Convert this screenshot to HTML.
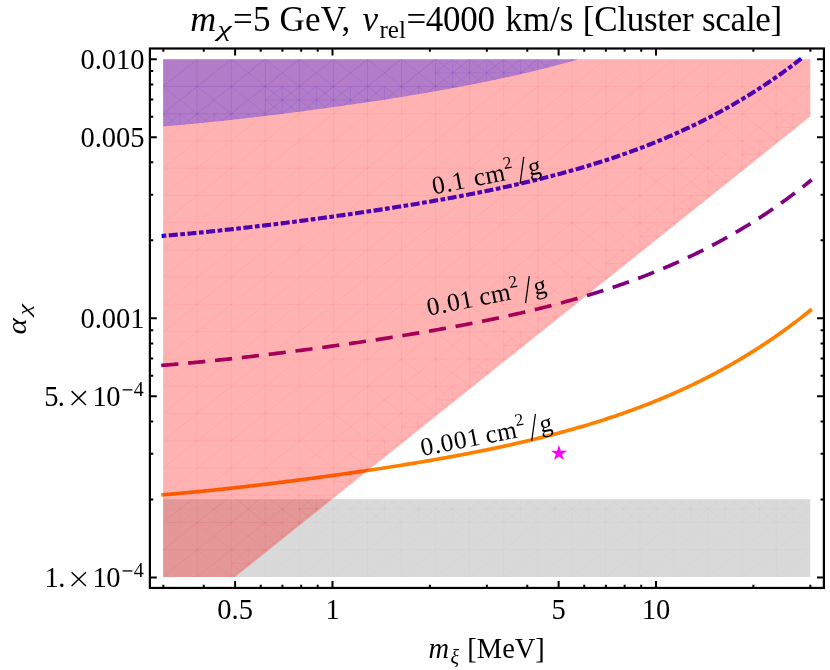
<!DOCTYPE html>
<html><head><meta charset="utf-8"><title>plot</title>
<style>
html,body{margin:0;padding:0;background:#fff;}
body{width:830px;height:670px;overflow:hidden;}
svg{display:block;will-change:transform;}
text{font-family:"Liberation Serif",serif;fill:#000;}
</style></head><body>
<svg width="830" height="670" viewBox="0 0 830 670">
<rect x="0" y="0" width="830" height="670" fill="#fff"/>
<rect x="163.10" y="499.17" width="647.15" height="77.83" fill="#000" fill-opacity="0.15"/>
<path d="M161.60,235.98 L163.10,235.85 L164.72,235.72 L166.34,235.59 L167.97,235.45 L169.59,235.32 L171.21,235.18 L172.83,235.04 L174.45,234.90 L176.08,234.76 L177.70,234.62 L179.32,234.48 L180.94,234.33 L182.56,234.18 L184.19,234.04 L185.81,233.89 L187.43,233.74 L189.05,233.59 L190.67,233.44 L192.29,233.28 L193.92,233.13 L195.54,232.97 L197.16,232.81 L198.78,232.66 L200.40,232.50 L202.03,232.34 L203.65,232.18 L205.27,232.01 L206.89,231.85 L208.51,231.69 L210.14,231.52 L211.76,231.35 L213.38,231.19 L215.00,231.02 L216.62,230.85 L218.25,230.68 L219.87,230.51 L221.49,230.33 L223.11,230.16 L224.73,229.99 L226.36,229.81 L227.98,229.64 L229.60,229.46 L231.22,229.28 L232.84,229.10 L234.46,228.92 L236.09,228.74 L237.71,228.56 L239.33,228.38 L240.95,228.19 L242.57,228.01 L244.20,227.83 L245.82,227.64 L247.44,227.45 L249.06,227.27 L250.68,227.08 L252.31,226.89 L253.93,226.70 L255.55,226.51 L257.17,226.32 L258.79,226.12 L260.42,225.93 L262.04,225.74 L263.66,225.54 L265.28,225.35 L266.90,225.15 L268.53,224.96 L270.15,224.76 L271.77,224.56 L273.39,224.36 L275.01,224.16 L276.64,223.96 L278.26,223.76 L279.88,223.56 L281.50,223.35 L283.12,223.15 L284.74,222.95 L286.37,222.74 L287.99,222.54 L289.61,222.33 L291.23,222.12 L292.85,221.91 L294.48,221.71 L296.10,221.50 L297.72,221.29 L299.34,221.08 L300.96,220.86 L302.59,220.65 L304.21,220.44 L305.83,220.23 L307.45,220.01 L309.07,219.80 L310.70,219.58 L312.32,219.37 L313.94,219.15 L315.56,218.93 L317.18,218.71 L318.81,218.49 L320.43,218.27 L322.05,218.05 L323.67,217.83 L325.29,217.61 L326.91,217.39 L328.54,217.17 L330.16,216.94 L331.78,216.72 L333.40,216.49 L335.02,216.27 L336.65,216.04 L338.27,215.81 L339.89,215.58 L341.51,215.35 L343.13,215.12 L344.76,214.89 L346.38,214.66 L348.00,214.43 L349.62,214.20 L351.24,213.96 L352.87,213.73 L354.49,213.49 L356.11,213.26 L357.73,213.02 L359.35,212.78 L360.98,212.55 L362.60,212.31 L364.22,212.07 L365.84,211.83 L367.46,211.58 L369.09,211.34 L370.71,211.10 L372.33,210.86 L373.95,210.61 L375.57,210.37 L377.19,210.12 L378.82,209.87 L380.44,209.62 L382.06,209.37 L383.68,209.12 L385.30,208.87 L386.93,208.62 L388.55,208.37 L390.17,208.12 L391.79,207.86 L393.41,207.61 L395.04,207.35 L396.66,207.09 L398.28,206.83 L399.90,206.57 L401.52,206.31 L403.15,206.05 L404.77,205.79 L406.39,205.53 L408.01,205.26 L409.63,205.00 L411.26,204.73 L412.88,204.46 L414.50,204.19 L416.12,203.92 L417.74,203.65 L419.36,203.38 L420.99,203.11 L422.61,202.83 L424.23,202.56 L425.85,202.28 L427.47,202.00 L429.10,201.73 L430.72,201.45 L432.34,201.16 L433.96,200.88 L435.58,200.60 L437.21,200.31 L438.83,200.03 L440.45,199.74 L442.07,199.45 L443.69,199.16 L445.32,198.87 L446.94,198.58 L448.56,198.28 L450.18,197.99 L451.80,197.69 L453.43,197.39 L455.05,197.09 L456.67,196.79 L458.29,196.49 L459.91,196.18 L461.54,195.88 L463.16,195.57 L464.78,195.26 L466.40,194.95 L468.02,194.64 L469.64,194.33 L471.27,194.01 L472.89,193.70 L474.51,193.38 L476.13,193.06 L477.75,192.74 L479.38,192.41 L481.00,192.09 L482.62,191.76 L484.24,191.44 L485.86,191.11 L487.49,190.77 L489.11,190.44 L490.73,190.11 L492.35,189.77 L493.97,189.43 L495.60,189.09 L497.22,188.75 L498.84,188.40 L500.46,188.05 L502.08,187.71 L503.71,187.35 L505.33,187.00 L506.95,186.65 L508.57,186.29 L510.19,185.93 L511.81,185.57 L513.44,185.21 L515.06,184.84 L516.68,184.48 L518.30,184.11 L519.92,183.74 L521.55,183.36 L523.17,182.99 L524.79,182.61 L526.41,182.23 L528.03,181.84 L529.66,181.46 L531.28,181.07 L532.90,180.68 L534.52,180.29 L536.14,179.89 L537.77,179.50 L539.39,179.10 L541.01,178.69 L542.63,178.29 L544.25,177.88 L545.88,177.47 L547.50,177.06 L549.12,176.64 L550.74,176.23 L552.36,175.80 L553.99,175.38 L555.61,174.96 L557.23,174.53 L558.85,174.09 L560.47,173.66 L562.09,173.22 L563.72,172.78 L565.34,172.34 L566.96,171.89 L568.58,171.44 L570.20,170.99 L571.83,170.54 L573.45,170.08 L575.07,169.62 L576.69,169.15 L578.31,168.68 L579.94,168.21 L581.56,167.74 L583.18,167.26 L584.80,166.78 L586.42,166.30 L588.05,165.81 L589.67,165.32 L591.29,164.83 L592.91,164.33 L594.53,163.83 L596.16,163.32 L597.78,162.82 L599.40,162.30 L601.02,161.79 L602.64,161.27 L604.26,160.75 L605.89,160.22 L607.51,159.69 L609.13,159.16 L610.75,158.62 L612.37,158.08 L614.00,157.54 L615.62,156.99 L617.24,156.44 L618.86,155.88 L620.48,155.32 L622.11,154.76 L623.73,154.19 L625.35,153.61 L626.97,153.04 L628.59,152.46 L630.22,151.87 L631.84,151.28 L633.46,150.69 L635.08,150.09 L636.70,149.49 L638.33,148.88 L639.95,148.27 L641.57,147.66 L643.19,147.04 L644.81,146.41 L646.44,145.78 L648.06,145.15 L649.68,144.51 L651.30,143.87 L652.92,143.22 L654.54,142.57 L656.17,141.91 L657.79,141.25 L659.41,140.58 L661.03,139.91 L662.65,139.24 L664.28,138.56 L665.90,137.87 L667.52,137.18 L669.14,136.48 L670.76,135.78 L672.39,135.07 L674.01,134.36 L675.63,133.64 L677.25,132.92 L678.87,132.19 L680.50,131.46 L682.12,130.72 L683.74,129.98 L685.36,129.23 L686.98,128.47 L688.61,127.71 L690.23,126.95 L691.85,126.18 L693.47,125.40 L695.09,124.61 L696.71,123.83 L698.34,123.03 L699.96,122.23 L701.58,121.42 L703.20,120.61 L704.82,119.79 L706.45,118.97 L708.07,118.14 L709.69,117.30 L711.31,116.46 L712.93,115.61 L714.56,114.75 L716.18,113.89 L717.80,113.02 L719.42,112.15 L721.04,111.27 L722.67,110.38 L724.29,109.49 L725.91,108.59 L727.53,107.68 L729.15,106.76 L730.78,105.84 L732.40,104.92 L734.02,103.98 L735.64,103.04 L737.26,102.09 L738.89,101.14 L740.51,100.18 L742.13,99.21 L743.75,98.23 L745.37,97.25 L746.99,96.26 L748.62,95.26 L750.24,94.26 L751.86,93.24 L753.48,92.23 L755.10,91.20 L756.73,90.16 L758.35,89.12 L759.97,88.07 L761.59,87.02 L763.21,85.95 L764.84,84.88 L766.46,83.80 L768.08,82.71 L769.70,81.61 L771.32,80.51 L772.95,79.40 L774.57,78.28 L776.19,77.15 L777.81,76.02 L779.43,74.87 L781.06,73.72 L782.68,72.56 L784.30,71.39 L785.92,70.21 L787.54,69.03 L789.16,67.83 L790.79,66.63 L792.41,65.42 L794.03,64.20 L795.65,62.97 L797.27,61.73 L798.90,60.48 L800.52,59.23 L800.55,59.20 L801.74,58.28" fill="none" stroke="#0000ff" stroke-width="4.1" stroke-dasharray="4.7 2.5 9.06 2.5" stroke-linecap="butt"/>
<path d="M163.10,365.30 L164.72,365.17 L166.34,365.04 L167.97,364.90 L169.59,364.77 L171.21,364.63 L172.83,364.49 L174.45,364.35 L176.08,364.21 L177.70,364.07 L179.32,363.93 L180.94,363.78 L182.56,363.63 L184.19,363.49 L185.81,363.34 L187.43,363.19 L189.05,363.04 L190.67,362.89 L192.29,362.73 L193.92,362.58 L195.54,362.42 L197.16,362.26 L198.78,362.11 L200.40,361.95 L202.03,361.79 L203.65,361.63 L205.27,361.46 L206.89,361.30 L208.51,361.14 L210.14,360.97 L211.76,360.80 L213.38,360.64 L215.00,360.47 L216.62,360.30 L218.25,360.13 L219.87,359.96 L221.49,359.78 L223.11,359.61 L224.73,359.44 L226.36,359.26 L227.98,359.09 L229.60,358.91 L231.22,358.73 L232.84,358.55 L234.46,358.37 L236.09,358.19 L237.71,358.01 L239.33,357.83 L240.95,357.64 L242.57,357.46 L244.20,357.28 L245.82,357.09 L247.44,356.90 L249.06,356.72 L250.68,356.53 L252.31,356.34 L253.93,356.15 L255.55,355.96 L257.17,355.77 L258.79,355.57 L260.42,355.38 L262.04,355.19 L263.66,354.99 L265.28,354.80 L266.90,354.60 L268.53,354.41 L270.15,354.21 L271.77,354.01 L273.39,353.81 L275.01,353.61 L276.64,353.41 L278.26,353.21 L279.88,353.01 L281.50,352.80 L283.12,352.60 L284.74,352.40 L286.37,352.19 L287.99,351.99 L289.61,351.78 L291.23,351.57 L292.85,351.36 L294.48,351.16 L296.10,350.95 L297.72,350.74 L299.34,350.53 L300.96,350.31 L302.59,350.10 L304.21,349.89 L305.83,349.68 L307.45,349.46 L309.07,349.25 L310.70,349.03 L312.32,348.82 L313.94,348.60 L315.56,348.38 L317.18,348.16 L318.81,347.94 L320.43,347.72 L322.05,347.50 L323.67,347.28 L325.29,347.06 L326.91,346.84 L328.54,346.62 L330.16,346.39 L331.78,346.17 L333.40,345.94 L335.02,345.72 L336.65,345.49 L338.27,345.26 L339.89,345.03 L341.51,344.80 L343.13,344.57 L344.76,344.34 L346.38,344.11 L348.00,343.88 L349.62,343.65 L351.24,343.41 L352.87,343.18 L354.49,342.94 L356.11,342.71 L357.73,342.47 L359.35,342.23 L360.98,342.00 L362.60,341.76 L364.22,341.52 L365.84,341.28 L367.46,341.03 L369.09,340.79 L370.71,340.55 L372.33,340.31 L373.95,340.06 L375.57,339.82 L377.19,339.57 L378.82,339.32 L380.44,339.07 L382.06,338.82 L383.68,338.57 L385.30,338.32 L386.93,338.07 L388.55,337.82 L390.17,337.57 L391.79,337.31 L393.41,337.06 L395.04,336.80 L396.66,336.54 L398.28,336.28 L399.90,336.02 L401.52,335.76 L403.15,335.50 L404.77,335.24 L406.39,334.98 L408.01,334.71 L409.63,334.45 L411.26,334.18 L412.88,333.91 L414.50,333.64 L416.12,333.37 L417.74,333.10 L419.36,332.83 L420.99,332.56 L422.61,332.28 L424.23,332.01 L425.85,331.73 L427.47,331.45 L429.10,331.18 L430.72,330.90 L432.34,330.61 L433.96,330.33 L435.58,330.05 L437.21,329.76 L438.83,329.48 L440.45,329.19 L442.07,328.90 L443.69,328.61 L445.32,328.32 L446.94,328.03 L448.56,327.73 L450.18,327.44 L451.80,327.14 L453.43,326.84 L455.05,326.54 L456.67,326.24 L458.29,325.94 L459.91,325.63 L461.54,325.33 L463.16,325.02 L464.78,324.71 L466.40,324.40 L468.02,324.09 L469.64,323.78 L471.27,323.46 L472.89,323.15 L474.51,322.83 L476.13,322.51 L477.75,322.19 L479.38,321.86 L481.00,321.54 L482.62,321.21 L484.24,320.89 L485.86,320.56 L487.49,320.22 L489.11,319.89 L490.73,319.56 L492.35,319.22 L493.97,318.88 L495.60,318.54 L497.22,318.20 L498.84,317.85 L500.46,317.50 L502.08,317.16 L503.71,316.80 L505.33,316.45 L506.95,316.10 L508.57,315.74 L510.19,315.38 L511.81,315.02 L513.44,314.66 L515.06,314.29 L516.68,313.93 L518.30,313.56 L519.92,313.19 L521.55,312.81 L523.17,312.44 L524.79,312.06 L526.41,311.68 L528.03,311.29 L529.66,310.91 L531.28,310.52 L532.90,310.13 L534.52,309.74 L536.14,309.34 L537.77,308.95 L539.39,308.55 L541.01,308.14 L542.63,307.74 L544.25,307.33 L545.88,306.92 L547.50,306.51 L549.12,306.09 L550.74,305.68 L552.36,305.25 L553.99,304.83 L555.61,304.41 L557.23,303.98 L558.85,303.54 L560.47,303.11 L562.09,302.67 L563.72,302.23 L565.34,301.79 L566.96,301.34 L568.58,300.89 L570.20,300.44 L571.83,299.99 L573.45,299.53 L575.07,299.07 L576.69,298.60 L578.31,298.13 L579.94,297.66 L581.56,297.19 L583.18,296.71 L584.80,296.23 L586.42,295.75 L588.05,295.26 L589.67,294.77 L591.29,294.28 L592.91,293.78 L594.53,293.28 L596.16,292.77 L597.78,292.27 L599.40,291.75 L601.02,291.24 L602.64,290.72 L604.26,290.20 L605.89,289.67 L607.51,289.14 L609.13,288.61 L610.75,288.07 L612.37,287.53 L614.00,286.99 L615.62,286.44 L617.24,285.89 L618.86,285.33 L620.48,284.77 L622.11,284.21 L623.73,283.64 L625.35,283.06 L626.97,282.49 L628.59,281.91 L630.22,281.32 L631.84,280.73 L633.46,280.14 L635.08,279.54 L636.70,278.94 L638.33,278.33 L639.95,277.72 L641.57,277.11 L643.19,276.49 L644.81,275.86 L646.44,275.23 L648.06,274.60 L649.68,273.96 L651.30,273.32 L652.92,272.67 L654.54,272.02 L656.17,271.36 L657.79,270.70 L659.41,270.03 L661.03,269.36 L662.65,268.69 L664.28,268.01 L665.90,267.32 L667.52,266.63 L669.14,265.93 L670.76,265.23 L672.39,264.52 L674.01,263.81 L675.63,263.09 L677.25,262.37 L678.87,261.64 L680.50,260.91 L682.12,260.17 L683.74,259.43 L685.36,258.68 L686.98,257.92 L688.61,257.16 L690.23,256.40 L691.85,255.63 L693.47,254.85 L695.09,254.06 L696.71,253.28 L698.34,252.48 L699.96,251.68 L701.58,250.87 L703.20,250.06 L704.82,249.24 L706.45,248.42 L708.07,247.59 L709.69,246.75 L711.31,245.91 L712.93,245.06 L714.56,244.20 L716.18,243.34 L717.80,242.47 L719.42,241.60 L721.04,240.72 L722.67,239.83 L724.29,238.94 L725.91,238.04 L727.53,237.13 L729.15,236.21 L730.78,235.29 L732.40,234.37 L734.02,233.43 L735.64,232.49 L737.26,231.54 L738.89,230.59 L740.51,229.63 L742.13,228.66 L743.75,227.68 L745.37,226.70 L746.99,225.71 L748.62,224.71 L750.24,223.71 L751.86,222.69 L753.48,221.68 L755.10,220.65 L756.73,219.61 L758.35,218.57 L759.97,217.52 L761.59,216.47 L763.21,215.40 L764.84,214.33 L766.46,213.25 L768.08,212.16 L769.70,211.06 L771.32,209.96 L772.95,208.85 L774.57,207.73 L776.19,206.60 L777.81,205.47 L779.43,204.32 L781.06,203.17 L782.68,202.01 L784.30,200.84 L785.92,199.66 L787.54,198.48 L789.16,197.28 L790.79,196.08 L792.41,194.87 L794.03,193.65 L795.65,192.42 L797.27,191.18 L798.90,189.93 L800.52,188.68 L802.14,187.41 L803.76,186.14 L805.38,184.86 L807.01,183.57 L808.63,182.27 L810.25,180.96" fill="none" stroke="#800080" stroke-width="3.7" stroke-dasharray="13.5 13.5" stroke-linecap="square"/>
<path d="M163.10,494.75 L164.72,494.62 L166.34,494.49 L167.97,494.35 L169.59,494.22 L171.21,494.08 L172.83,493.94 L174.45,493.80 L176.08,493.66 L177.70,493.52 L179.32,493.38 L180.94,493.23 L182.56,493.08 L184.19,492.94 L185.81,492.79 L187.43,492.64 L189.05,492.49 L190.67,492.34 L192.29,492.18 L193.92,492.03 L195.54,491.87 L197.16,491.71 L198.78,491.56 L200.40,491.40 L202.03,491.24 L203.65,491.08 L205.27,490.91 L206.89,490.75 L208.51,490.59 L210.14,490.42 L211.76,490.25 L213.38,490.09 L215.00,489.92 L216.62,489.75 L218.25,489.58 L219.87,489.41 L221.49,489.23 L223.11,489.06 L224.73,488.89 L226.36,488.71 L227.98,488.54 L229.60,488.36 L231.22,488.18 L232.84,488.00 L234.46,487.82 L236.09,487.64 L237.71,487.46 L239.33,487.28 L240.95,487.09 L242.57,486.91 L244.20,486.73 L245.82,486.54 L247.44,486.35 L249.06,486.17 L250.68,485.98 L252.31,485.79 L253.93,485.60 L255.55,485.41 L257.17,485.22 L258.79,485.02 L260.42,484.83 L262.04,484.64 L263.66,484.44 L265.28,484.25 L266.90,484.05 L268.53,483.86 L270.15,483.66 L271.77,483.46 L273.39,483.26 L275.01,483.06 L276.64,482.86 L278.26,482.66 L279.88,482.46 L281.50,482.25 L283.12,482.05 L284.74,481.85 L286.37,481.64 L287.99,481.44 L289.61,481.23 L291.23,481.02 L292.85,480.81 L294.48,480.61 L296.10,480.40 L297.72,480.19 L299.34,479.98 L300.96,479.76 L302.59,479.55 L304.21,479.34 L305.83,479.13 L307.45,478.91 L309.07,478.70 L310.70,478.48 L312.32,478.27 L313.94,478.05 L315.56,477.83 L317.18,477.61 L318.81,477.39 L320.43,477.17 L322.05,476.95 L323.67,476.73 L325.29,476.51 L326.91,476.29 L328.54,476.07 L330.16,475.84 L331.78,475.62 L333.40,475.39 L335.02,475.17 L336.65,474.94 L338.27,474.71 L339.89,474.48 L341.51,474.25 L343.13,474.02 L344.76,473.79 L346.38,473.56 L348.00,473.33 L349.62,473.10 L351.24,472.86 L352.87,472.63 L354.49,472.39 L356.11,472.16 L357.73,471.92 L359.35,471.68 L360.98,471.45 L362.60,471.21 L364.22,470.97 L365.84,470.73 L367.46,470.48 L369.09,470.24 L370.71,470.00 L372.33,469.76 L373.95,469.51 L375.57,469.27 L377.19,469.02 L378.82,468.77 L380.44,468.52 L382.06,468.27 L383.68,468.02 L385.30,467.77 L386.93,467.52 L388.55,467.27 L390.17,467.02 L391.79,466.76 L393.41,466.51 L395.04,466.25 L396.66,465.99 L398.28,465.73 L399.90,465.47 L401.52,465.21 L403.15,464.95 L404.77,464.69 L406.39,464.43 L408.01,464.16 L409.63,463.90 L411.26,463.63 L412.88,463.36 L414.50,463.09 L416.12,462.82 L417.74,462.55 L419.36,462.28 L420.99,462.01 L422.61,461.73 L424.23,461.46 L425.85,461.18 L427.47,460.90 L429.10,460.63 L430.72,460.35 L432.34,460.06 L433.96,459.78 L435.58,459.50 L437.21,459.21 L438.83,458.93 L440.45,458.64 L442.07,458.35 L443.69,458.06 L445.32,457.77 L446.94,457.48 L448.56,457.18 L450.18,456.89 L451.80,456.59 L453.43,456.29 L455.05,455.99 L456.67,455.69 L458.29,455.39 L459.91,455.08 L461.54,454.78 L463.16,454.47 L464.78,454.16 L466.40,453.85 L468.02,453.54 L469.64,453.23 L471.27,452.91 L472.89,452.60 L474.51,452.28 L476.13,451.96 L477.75,451.64 L479.38,451.31 L481.00,450.99 L482.62,450.66 L484.24,450.34 L485.86,450.01 L487.49,449.67 L489.11,449.34 L490.73,449.01 L492.35,448.67 L493.97,448.33 L495.60,447.99 L497.22,447.65 L498.84,447.30 L500.46,446.95 L502.08,446.61 L503.71,446.25 L505.33,445.90 L506.95,445.55 L508.57,445.19 L510.19,444.83 L511.81,444.47 L513.44,444.11 L515.06,443.74 L516.68,443.38 L518.30,443.01 L519.92,442.64 L521.55,442.26 L523.17,441.89 L524.79,441.51 L526.41,441.13 L528.03,440.74 L529.66,440.36 L531.28,439.97 L532.90,439.58 L534.52,439.19 L536.14,438.79 L537.77,438.40 L539.39,438.00 L541.01,437.59 L542.63,437.19 L544.25,436.78 L545.88,436.37 L547.50,435.96 L549.12,435.54 L550.74,435.13 L552.36,434.70 L553.99,434.28 L555.61,433.86 L557.23,433.43 L558.85,432.99 L560.47,432.56 L562.09,432.12 L563.72,431.68 L565.34,431.24 L566.96,430.79 L568.58,430.34 L570.20,429.89 L571.83,429.44 L573.45,428.98 L575.07,428.52 L576.69,428.05 L578.31,427.58 L579.94,427.11 L581.56,426.64 L583.18,426.16 L584.80,425.68 L586.42,425.20 L588.05,424.71 L589.67,424.22 L591.29,423.73 L592.91,423.23 L594.53,422.73 L596.16,422.22 L597.78,421.72 L599.40,421.20 L601.02,420.69 L602.64,420.17 L604.26,419.65 L605.89,419.12 L607.51,418.59 L609.13,418.06 L610.75,417.52 L612.37,416.98 L614.00,416.44 L615.62,415.89 L617.24,415.34 L618.86,414.78 L620.48,414.22 L622.11,413.66 L623.73,413.09 L625.35,412.51 L626.97,411.94 L628.59,411.36 L630.22,410.77 L631.84,410.18 L633.46,409.59 L635.08,408.99 L636.70,408.39 L638.33,407.78 L639.95,407.17 L641.57,406.56 L643.19,405.94 L644.81,405.31 L646.44,404.68 L648.06,404.05 L649.68,403.41 L651.30,402.77 L652.92,402.12 L654.54,401.47 L656.17,400.81 L657.79,400.15 L659.41,399.48 L661.03,398.81 L662.65,398.14 L664.28,397.46 L665.90,396.77 L667.52,396.08 L669.14,395.38 L670.76,394.68 L672.39,393.97 L674.01,393.26 L675.63,392.54 L677.25,391.82 L678.87,391.09 L680.50,390.36 L682.12,389.62 L683.74,388.88 L685.36,388.13 L686.98,387.37 L688.61,386.61 L690.23,385.85 L691.85,385.08 L693.47,384.30 L695.09,383.51 L696.71,382.73 L698.34,381.93 L699.96,381.13 L701.58,380.32 L703.20,379.51 L704.82,378.69 L706.45,377.87 L708.07,377.04 L709.69,376.20 L711.31,375.36 L712.93,374.51 L714.56,373.65 L716.18,372.79 L717.80,371.92 L719.42,371.05 L721.04,370.17 L722.67,369.28 L724.29,368.39 L725.91,367.49 L727.53,366.58 L729.15,365.66 L730.78,364.74 L732.40,363.82 L734.02,362.88 L735.64,361.94 L737.26,360.99 L738.89,360.04 L740.51,359.08 L742.13,358.11 L743.75,357.13 L745.37,356.15 L746.99,355.16 L748.62,354.16 L750.24,353.16 L751.86,352.14 L753.48,351.13 L755.10,350.10 L756.73,349.06 L758.35,348.02 L759.97,346.97 L761.59,345.92 L763.21,344.85 L764.84,343.78 L766.46,342.70 L768.08,341.61 L769.70,340.51 L771.32,339.41 L772.95,338.30 L774.57,337.18 L776.19,336.05 L777.81,334.92 L779.43,333.77 L781.06,332.62 L782.68,331.46 L784.30,330.29 L785.92,329.11 L787.54,327.93 L789.16,326.73 L790.79,325.53 L792.41,324.32 L794.03,323.10 L795.65,321.87 L797.27,320.63 L798.90,319.38 L800.52,318.13 L802.14,316.86 L803.76,315.59 L805.38,314.31 L807.01,313.02 L808.63,311.72 L810.25,310.41" fill="none" stroke="#ff8000" stroke-width="3.7" stroke-linecap="square"/>
<path d="M163.10,59.20 L810.25,59.20 L810.25,116.49 L234.92,577.00 L163.10,577.00Z" fill="#ff0000" fill-opacity="0.3"/>
<path d="M163.10,59.20 L578.60,59.20 L578.31,59.28 L576.69,59.75 L575.07,60.22 L573.45,60.68 L571.83,61.14 L570.20,61.59 L568.58,62.04 L566.96,62.49 L565.34,62.94 L563.72,63.38 L562.09,63.82 L560.47,64.26 L558.85,64.69 L557.23,65.13 L555.61,65.56 L553.99,65.98 L552.36,66.40 L550.74,66.83 L549.12,67.24 L547.50,67.66 L545.88,68.07 L544.25,68.48 L542.63,68.89 L541.01,69.29 L539.39,69.70 L537.77,70.10 L536.14,70.49 L534.52,70.89 L532.90,71.28 L531.28,71.67 L529.66,72.06 L528.03,72.44 L526.41,72.83 L524.79,73.21 L523.17,73.59 L521.55,73.96 L519.92,74.34 L518.30,74.71 L516.68,75.08 L515.06,75.44 L513.44,75.81 L511.81,76.17 L510.19,76.53 L508.57,76.89 L506.95,77.25 L505.33,77.60 L503.71,77.95 L502.08,78.31 L500.46,78.65 L498.84,79.00 L497.22,79.35 L495.60,79.69 L493.97,80.03 L492.35,80.37 L490.73,80.71 L489.11,81.04 L487.49,81.37 L485.86,81.71 L484.24,82.04 L482.62,82.36 L481.00,82.69 L479.38,83.01 L477.75,83.34 L476.13,83.66 L474.51,83.98 L472.89,84.30 L471.27,84.61 L469.64,84.93 L468.02,85.24 L466.40,85.55 L464.78,85.86 L463.16,86.17 L461.54,86.48 L459.91,86.78 L458.29,87.09 L456.67,87.39 L455.05,87.69 L453.43,87.99 L451.80,88.29 L450.18,88.59 L448.56,88.88 L446.94,89.18 L445.32,89.47 L443.69,89.76 L442.07,90.05 L440.45,90.34 L438.83,90.63 L437.21,90.91 L435.58,91.20 L433.96,91.48 L432.34,91.76 L430.72,92.05 L429.10,92.33 L427.47,92.60 L425.85,92.88 L424.23,93.16 L422.61,93.43 L420.99,93.71 L419.36,93.98 L417.74,94.25 L416.12,94.52 L414.50,94.79 L412.88,95.06 L411.26,95.33 L409.63,95.60 L408.01,95.86 L406.39,96.13 L404.77,96.39 L403.15,96.65 L401.52,96.91 L399.90,97.17 L398.28,97.43 L396.66,97.69 L395.04,97.95 L393.41,98.21 L391.79,98.46 L390.17,98.72 L388.55,98.97 L386.93,99.22 L385.30,99.47 L383.68,99.72 L382.06,99.97 L380.44,100.22 L378.82,100.47 L377.19,100.72 L375.57,100.97 L373.95,101.21 L372.33,101.46 L370.71,101.70 L369.09,101.94 L367.46,102.18 L365.84,102.43 L364.22,102.67 L362.60,102.91 L360.98,103.15 L359.35,103.38 L357.73,103.62 L356.11,103.86 L354.49,104.09 L352.87,104.33 L351.24,104.56 L349.62,104.80 L348.00,105.03 L346.38,105.26 L344.76,105.49 L343.13,105.72 L341.51,105.95 L339.89,106.18 L338.27,106.41 L336.65,106.64 L335.02,106.87 L333.40,107.09 L331.78,107.32 L330.16,107.54 L328.54,107.77 L326.91,107.99 L325.29,108.21 L323.67,108.43 L322.05,108.65 L320.43,108.87 L318.81,109.09 L317.18,109.31 L315.56,109.53 L313.94,109.75 L312.32,109.97 L310.70,110.18 L309.07,110.40 L307.45,110.61 L305.83,110.83 L304.21,111.04 L302.59,111.25 L300.96,111.46 L299.34,111.68 L297.72,111.89 L296.10,112.10 L294.48,112.31 L292.85,112.51 L291.23,112.72 L289.61,112.93 L287.99,113.14 L286.37,113.34 L284.74,113.55 L283.12,113.75 L281.50,113.95 L279.88,114.16 L278.26,114.36 L276.64,114.56 L275.01,114.76 L273.39,114.96 L271.77,115.16 L270.15,115.36 L268.53,115.56 L266.90,115.75 L265.28,115.95 L263.66,116.14 L262.04,116.34 L260.42,116.53 L258.79,116.72 L257.17,116.92 L255.55,117.11 L253.93,117.30 L252.31,117.49 L250.68,117.68 L249.06,117.87 L247.44,118.05 L245.82,118.24 L244.20,118.43 L242.57,118.61 L240.95,118.79 L239.33,118.98 L237.71,119.16 L236.09,119.34 L234.46,119.52 L232.84,119.70 L231.22,119.88 L229.60,120.06 L227.98,120.24 L226.36,120.41 L224.73,120.59 L223.11,120.76 L221.49,120.93 L219.87,121.11 L218.25,121.28 L216.62,121.45 L215.00,121.62 L213.38,121.79 L211.76,121.95 L210.14,122.12 L208.51,122.29 L206.89,122.45 L205.27,122.61 L203.65,122.78 L202.03,122.94 L200.40,123.10 L198.78,123.26 L197.16,123.41 L195.54,123.57 L193.92,123.73 L192.29,123.88 L190.67,124.04 L189.05,124.19 L187.43,124.34 L185.81,124.49 L184.19,124.64 L182.56,124.78 L180.94,124.93 L179.32,125.08 L177.70,125.22 L176.08,125.36 L174.45,125.50 L172.83,125.64 L171.21,125.78 L169.59,125.92 L167.97,126.05 L166.34,126.19 L164.72,126.32 L163.10,126.45Z" fill="#0000ff" fill-opacity="0.3"/>
<defs><clipPath id="cpk"><path d="M163.10,59.20 L810.25,59.20 L810.25,116.49 L234.92,577.00 L163.10,577.00Z"/></clipPath><clipPath id="cpp"><path d="M163.10,59.20 L578.60,59.20 L578.31,59.28 L576.69,59.75 L575.07,60.22 L573.45,60.68 L571.83,61.14 L570.20,61.59 L568.58,62.04 L566.96,62.49 L565.34,62.94 L563.72,63.38 L562.09,63.82 L560.47,64.26 L558.85,64.69 L557.23,65.13 L555.61,65.56 L553.99,65.98 L552.36,66.40 L550.74,66.83 L549.12,67.24 L547.50,67.66 L545.88,68.07 L544.25,68.48 L542.63,68.89 L541.01,69.29 L539.39,69.70 L537.77,70.10 L536.14,70.49 L534.52,70.89 L532.90,71.28 L531.28,71.67 L529.66,72.06 L528.03,72.44 L526.41,72.83 L524.79,73.21 L523.17,73.59 L521.55,73.96 L519.92,74.34 L518.30,74.71 L516.68,75.08 L515.06,75.44 L513.44,75.81 L511.81,76.17 L510.19,76.53 L508.57,76.89 L506.95,77.25 L505.33,77.60 L503.71,77.95 L502.08,78.31 L500.46,78.65 L498.84,79.00 L497.22,79.35 L495.60,79.69 L493.97,80.03 L492.35,80.37 L490.73,80.71 L489.11,81.04 L487.49,81.37 L485.86,81.71 L484.24,82.04 L482.62,82.36 L481.00,82.69 L479.38,83.01 L477.75,83.34 L476.13,83.66 L474.51,83.98 L472.89,84.30 L471.27,84.61 L469.64,84.93 L468.02,85.24 L466.40,85.55 L464.78,85.86 L463.16,86.17 L461.54,86.48 L459.91,86.78 L458.29,87.09 L456.67,87.39 L455.05,87.69 L453.43,87.99 L451.80,88.29 L450.18,88.59 L448.56,88.88 L446.94,89.18 L445.32,89.47 L443.69,89.76 L442.07,90.05 L440.45,90.34 L438.83,90.63 L437.21,90.91 L435.58,91.20 L433.96,91.48 L432.34,91.76 L430.72,92.05 L429.10,92.33 L427.47,92.60 L425.85,92.88 L424.23,93.16 L422.61,93.43 L420.99,93.71 L419.36,93.98 L417.74,94.25 L416.12,94.52 L414.50,94.79 L412.88,95.06 L411.26,95.33 L409.63,95.60 L408.01,95.86 L406.39,96.13 L404.77,96.39 L403.15,96.65 L401.52,96.91 L399.90,97.17 L398.28,97.43 L396.66,97.69 L395.04,97.95 L393.41,98.21 L391.79,98.46 L390.17,98.72 L388.55,98.97 L386.93,99.22 L385.30,99.47 L383.68,99.72 L382.06,99.97 L380.44,100.22 L378.82,100.47 L377.19,100.72 L375.57,100.97 L373.95,101.21 L372.33,101.46 L370.71,101.70 L369.09,101.94 L367.46,102.18 L365.84,102.43 L364.22,102.67 L362.60,102.91 L360.98,103.15 L359.35,103.38 L357.73,103.62 L356.11,103.86 L354.49,104.09 L352.87,104.33 L351.24,104.56 L349.62,104.80 L348.00,105.03 L346.38,105.26 L344.76,105.49 L343.13,105.72 L341.51,105.95 L339.89,106.18 L338.27,106.41 L336.65,106.64 L335.02,106.87 L333.40,107.09 L331.78,107.32 L330.16,107.54 L328.54,107.77 L326.91,107.99 L325.29,108.21 L323.67,108.43 L322.05,108.65 L320.43,108.87 L318.81,109.09 L317.18,109.31 L315.56,109.53 L313.94,109.75 L312.32,109.97 L310.70,110.18 L309.07,110.40 L307.45,110.61 L305.83,110.83 L304.21,111.04 L302.59,111.25 L300.96,111.46 L299.34,111.68 L297.72,111.89 L296.10,112.10 L294.48,112.31 L292.85,112.51 L291.23,112.72 L289.61,112.93 L287.99,113.14 L286.37,113.34 L284.74,113.55 L283.12,113.75 L281.50,113.95 L279.88,114.16 L278.26,114.36 L276.64,114.56 L275.01,114.76 L273.39,114.96 L271.77,115.16 L270.15,115.36 L268.53,115.56 L266.90,115.75 L265.28,115.95 L263.66,116.14 L262.04,116.34 L260.42,116.53 L258.79,116.72 L257.17,116.92 L255.55,117.11 L253.93,117.30 L252.31,117.49 L250.68,117.68 L249.06,117.87 L247.44,118.05 L245.82,118.24 L244.20,118.43 L242.57,118.61 L240.95,118.79 L239.33,118.98 L237.71,119.16 L236.09,119.34 L234.46,119.52 L232.84,119.70 L231.22,119.88 L229.60,120.06 L227.98,120.24 L226.36,120.41 L224.73,120.59 L223.11,120.76 L221.49,120.93 L219.87,121.11 L218.25,121.28 L216.62,121.45 L215.00,121.62 L213.38,121.79 L211.76,121.95 L210.14,122.12 L208.51,122.29 L206.89,122.45 L205.27,122.61 L203.65,122.78 L202.03,122.94 L200.40,123.10 L198.78,123.26 L197.16,123.41 L195.54,123.57 L193.92,123.73 L192.29,123.88 L190.67,124.04 L189.05,124.19 L187.43,124.34 L185.81,124.49 L184.19,124.64 L182.56,124.78 L180.94,124.93 L179.32,125.08 L177.70,125.22 L176.08,125.36 L174.45,125.50 L172.83,125.64 L171.21,125.78 L169.59,125.92 L167.97,126.05 L166.34,126.19 L164.72,126.32 L163.10,126.45Z"/></clipPath><clipPath id="cpg"><rect x="163.10" y="499.17" width="647.15" height="77.83"/></clipPath></defs>
<path d="M197.16,59.20V577.00M231.22,59.20V577.00M265.28,59.20V577.00M299.34,59.20V577.00M333.40,59.20V577.00M367.46,59.20V577.00M401.52,59.20V577.00M435.58,59.20V577.00M469.64,59.20V577.00M503.71,59.20V577.00M537.77,59.20V577.00M571.83,59.20V577.00M605.89,59.20V577.00M639.95,59.20V577.00M674.01,59.20V577.00M708.07,59.20V577.00M742.13,59.20V577.00M776.19,59.20V577.00M163.10,86.45H810.25M163.10,113.71H810.25M163.10,140.96H810.25M163.10,168.21H810.25M163.10,195.46H810.25M163.10,222.72H810.25M163.10,249.97H810.25M163.10,277.22H810.25M163.10,304.47H810.25M163.10,331.73H810.25M163.10,358.98H810.25M163.10,386.23H810.25M163.10,413.48H810.25M163.10,440.74H810.25M163.10,467.99H810.25M163.10,495.24H810.25M163.10,522.49H810.25M163.10,549.75H810.25M163.10,86.45L197.16,59.20M163.10,113.71L197.16,86.45M163.10,140.96L197.16,113.71M163.10,168.21L197.16,140.96M163.10,195.46L197.16,168.21M163.10,222.72L197.16,195.46M163.10,249.97L197.16,222.72M163.10,277.22L197.16,249.97M163.10,304.47L197.16,277.22M163.10,331.73L197.16,304.47M163.10,358.98L197.16,331.73M163.10,386.23L197.16,358.98M163.10,413.48L197.16,386.23M163.10,440.74L197.16,413.48M163.10,467.99L197.16,440.74M163.10,495.24L197.16,467.99M163.10,522.49L197.16,495.24M163.10,549.75L197.16,522.49M163.10,577.00L197.16,549.75M197.16,86.45L231.22,59.20M197.16,113.71L231.22,86.45M197.16,140.96L231.22,113.71M197.16,168.21L231.22,140.96M197.16,195.46L231.22,168.21M197.16,222.72L231.22,195.46M197.16,249.97L231.22,222.72M197.16,277.22L231.22,249.97M197.16,304.47L231.22,277.22M197.16,331.73L231.22,304.47M197.16,358.98L231.22,331.73M197.16,386.23L231.22,358.98M197.16,413.48L231.22,386.23M197.16,440.74L231.22,413.48M197.16,467.99L231.22,440.74M197.16,495.24L231.22,467.99M197.16,522.49L231.22,495.24M197.16,549.75L231.22,522.49M197.16,577.00L231.22,549.75M231.22,86.45L265.28,59.20M231.22,113.71L265.28,86.45M231.22,140.96L265.28,113.71M231.22,168.21L265.28,140.96M231.22,195.46L265.28,168.21M231.22,222.72L265.28,195.46M231.22,249.97L265.28,222.72M231.22,277.22L265.28,249.97M231.22,304.47L265.28,277.22M231.22,331.73L265.28,304.47M231.22,358.98L265.28,331.73M231.22,386.23L265.28,358.98M231.22,413.48L265.28,386.23M231.22,440.74L265.28,413.48M231.22,467.99L265.28,440.74M231.22,495.24L265.28,467.99M231.22,522.49L265.28,495.24M231.22,549.75L265.28,522.49M231.22,577.00L265.28,549.75M265.28,86.45L299.34,59.20M265.28,113.71L299.34,86.45M265.28,140.96L299.34,113.71M265.28,168.21L299.34,140.96M265.28,195.46L299.34,168.21M265.28,222.72L299.34,195.46M265.28,249.97L299.34,222.72M265.28,277.22L299.34,249.97M265.28,304.47L299.34,277.22M265.28,331.73L299.34,304.47M265.28,358.98L299.34,331.73M265.28,386.23L299.34,358.98M265.28,413.48L299.34,386.23M265.28,440.74L299.34,413.48M265.28,467.99L299.34,440.74M265.28,495.24L299.34,467.99M265.28,522.49L299.34,495.24M265.28,549.75L299.34,522.49M265.28,577.00L299.34,549.75M299.34,86.45L333.40,59.20M299.34,113.71L333.40,86.45M299.34,140.96L333.40,113.71M299.34,168.21L333.40,140.96M299.34,195.46L333.40,168.21M299.34,222.72L333.40,195.46M299.34,249.97L333.40,222.72M299.34,277.22L333.40,249.97M299.34,304.47L333.40,277.22M299.34,331.73L333.40,304.47M299.34,358.98L333.40,331.73M299.34,386.23L333.40,358.98M299.34,413.48L333.40,386.23M299.34,440.74L333.40,413.48M299.34,467.99L333.40,440.74M299.34,495.24L333.40,467.99M299.34,522.49L333.40,495.24M299.34,549.75L333.40,522.49M299.34,577.00L333.40,549.75M333.40,86.45L367.46,59.20M333.40,113.71L367.46,86.45M333.40,140.96L367.46,113.71M333.40,168.21L367.46,140.96M333.40,195.46L367.46,168.21M333.40,222.72L367.46,195.46M333.40,249.97L367.46,222.72M333.40,277.22L367.46,249.97M333.40,304.47L367.46,277.22M333.40,331.73L367.46,304.47M333.40,358.98L367.46,331.73M333.40,386.23L367.46,358.98M333.40,413.48L367.46,386.23M333.40,440.74L367.46,413.48M333.40,467.99L367.46,440.74M333.40,495.24L367.46,467.99M333.40,522.49L367.46,495.24M333.40,549.75L367.46,522.49M333.40,577.00L367.46,549.75M367.46,86.45L401.52,59.20M367.46,113.71L401.52,86.45M367.46,140.96L401.52,113.71M367.46,168.21L401.52,140.96M367.46,195.46L401.52,168.21M367.46,222.72L401.52,195.46M367.46,249.97L401.52,222.72M367.46,277.22L401.52,249.97M367.46,304.47L401.52,277.22M367.46,331.73L401.52,304.47M367.46,358.98L401.52,331.73M367.46,386.23L401.52,358.98M367.46,413.48L401.52,386.23M367.46,440.74L401.52,413.48M367.46,467.99L401.52,440.74M367.46,495.24L401.52,467.99M367.46,522.49L401.52,495.24M367.46,549.75L401.52,522.49M367.46,577.00L401.52,549.75M401.52,86.45L435.58,59.20M401.52,113.71L435.58,86.45M401.52,140.96L435.58,113.71M401.52,168.21L435.58,140.96M401.52,195.46L435.58,168.21M401.52,222.72L435.58,195.46M401.52,249.97L435.58,222.72M401.52,277.22L435.58,249.97M401.52,304.47L435.58,277.22M401.52,331.73L435.58,304.47M401.52,358.98L435.58,331.73M401.52,386.23L435.58,358.98M401.52,413.48L435.58,386.23M401.52,440.74L435.58,413.48M401.52,467.99L435.58,440.74M401.52,495.24L435.58,467.99M401.52,522.49L435.58,495.24M401.52,549.75L435.58,522.49M401.52,577.00L435.58,549.75M435.58,86.45L469.64,59.20M435.58,113.71L469.64,86.45M435.58,140.96L469.64,113.71M435.58,168.21L469.64,140.96M435.58,195.46L469.64,168.21M435.58,222.72L469.64,195.46M435.58,249.97L469.64,222.72M435.58,277.22L469.64,249.97M435.58,304.47L469.64,277.22M435.58,331.73L469.64,304.47M435.58,358.98L469.64,331.73M435.58,386.23L469.64,358.98M435.58,413.48L469.64,386.23M435.58,440.74L469.64,413.48M435.58,467.99L469.64,440.74M435.58,495.24L469.64,467.99M435.58,522.49L469.64,495.24M435.58,549.75L469.64,522.49M435.58,577.00L469.64,549.75M469.64,86.45L503.71,59.20M469.64,113.71L503.71,86.45M469.64,140.96L503.71,113.71M469.64,168.21L503.71,140.96M469.64,195.46L503.71,168.21M469.64,222.72L503.71,195.46M469.64,249.97L503.71,222.72M469.64,277.22L503.71,249.97M469.64,304.47L503.71,277.22M469.64,331.73L503.71,304.47M469.64,358.98L503.71,331.73M469.64,386.23L503.71,358.98M469.64,413.48L503.71,386.23M469.64,440.74L503.71,413.48M469.64,467.99L503.71,440.74M469.64,495.24L503.71,467.99M469.64,522.49L503.71,495.24M469.64,549.75L503.71,522.49M469.64,577.00L503.71,549.75M503.71,86.45L537.77,59.20M503.71,113.71L537.77,86.45M503.71,140.96L537.77,113.71M503.71,168.21L537.77,140.96M503.71,195.46L537.77,168.21M503.71,222.72L537.77,195.46M503.71,249.97L537.77,222.72M503.71,277.22L537.77,249.97M503.71,304.47L537.77,277.22M503.71,331.73L537.77,304.47M503.71,358.98L537.77,331.73M503.71,386.23L537.77,358.98M503.71,413.48L537.77,386.23M503.71,440.74L537.77,413.48M503.71,467.99L537.77,440.74M503.71,495.24L537.77,467.99M503.71,522.49L537.77,495.24M503.71,549.75L537.77,522.49M503.71,577.00L537.77,549.75M537.77,86.45L571.83,59.20M537.77,113.71L571.83,86.45M537.77,140.96L571.83,113.71M537.77,168.21L571.83,140.96M537.77,195.46L571.83,168.21M537.77,222.72L571.83,195.46M537.77,249.97L571.83,222.72M537.77,277.22L571.83,249.97M537.77,304.47L571.83,277.22M537.77,331.73L571.83,304.47M537.77,358.98L571.83,331.73M537.77,386.23L571.83,358.98M537.77,413.48L571.83,386.23M537.77,440.74L571.83,413.48M537.77,467.99L571.83,440.74M537.77,495.24L571.83,467.99M537.77,522.49L571.83,495.24M537.77,549.75L571.83,522.49M537.77,577.00L571.83,549.75M571.83,86.45L605.89,59.20M571.83,113.71L605.89,86.45M571.83,140.96L605.89,113.71M571.83,168.21L605.89,140.96M571.83,195.46L605.89,168.21M571.83,222.72L605.89,195.46M571.83,249.97L605.89,222.72M571.83,277.22L605.89,249.97M571.83,304.47L605.89,277.22M571.83,331.73L605.89,304.47M571.83,358.98L605.89,331.73M571.83,386.23L605.89,358.98M571.83,413.48L605.89,386.23M571.83,440.74L605.89,413.48M571.83,467.99L605.89,440.74M571.83,495.24L605.89,467.99M571.83,522.49L605.89,495.24M571.83,549.75L605.89,522.49M571.83,577.00L605.89,549.75M605.89,86.45L639.95,59.20M605.89,113.71L639.95,86.45M605.89,140.96L639.95,113.71M605.89,168.21L639.95,140.96M605.89,195.46L639.95,168.21M605.89,222.72L639.95,195.46M605.89,249.97L639.95,222.72M605.89,277.22L639.95,249.97M605.89,304.47L639.95,277.22M605.89,331.73L639.95,304.47M605.89,358.98L639.95,331.73M605.89,386.23L639.95,358.98M605.89,413.48L639.95,386.23M605.89,440.74L639.95,413.48M605.89,467.99L639.95,440.74M605.89,495.24L639.95,467.99M605.89,522.49L639.95,495.24M605.89,549.75L639.95,522.49M605.89,577.00L639.95,549.75M639.95,86.45L674.01,59.20M639.95,113.71L674.01,86.45M639.95,140.96L674.01,113.71M639.95,168.21L674.01,140.96M639.95,195.46L674.01,168.21M639.95,222.72L674.01,195.46M639.95,249.97L674.01,222.72M639.95,277.22L674.01,249.97M639.95,304.47L674.01,277.22M639.95,331.73L674.01,304.47M639.95,358.98L674.01,331.73M639.95,386.23L674.01,358.98M639.95,413.48L674.01,386.23M639.95,440.74L674.01,413.48M639.95,467.99L674.01,440.74M639.95,495.24L674.01,467.99M639.95,522.49L674.01,495.24M639.95,549.75L674.01,522.49M639.95,577.00L674.01,549.75M674.01,86.45L708.07,59.20M674.01,113.71L708.07,86.45M674.01,140.96L708.07,113.71M674.01,168.21L708.07,140.96M674.01,195.46L708.07,168.21M674.01,222.72L708.07,195.46M674.01,249.97L708.07,222.72M674.01,277.22L708.07,249.97M674.01,304.47L708.07,277.22M674.01,331.73L708.07,304.47M674.01,358.98L708.07,331.73M674.01,386.23L708.07,358.98M674.01,413.48L708.07,386.23M674.01,440.74L708.07,413.48M674.01,467.99L708.07,440.74M674.01,495.24L708.07,467.99M674.01,522.49L708.07,495.24M674.01,549.75L708.07,522.49M674.01,577.00L708.07,549.75M708.07,86.45L742.13,59.20M708.07,113.71L742.13,86.45M708.07,140.96L742.13,113.71M708.07,168.21L742.13,140.96M708.07,195.46L742.13,168.21M708.07,222.72L742.13,195.46M708.07,249.97L742.13,222.72M708.07,277.22L742.13,249.97M708.07,304.47L742.13,277.22M708.07,331.73L742.13,304.47M708.07,358.98L742.13,331.73M708.07,386.23L742.13,358.98M708.07,413.48L742.13,386.23M708.07,440.74L742.13,413.48M708.07,467.99L742.13,440.74M708.07,495.24L742.13,467.99M708.07,522.49L742.13,495.24M708.07,549.75L742.13,522.49M708.07,577.00L742.13,549.75M742.13,86.45L776.19,59.20M742.13,113.71L776.19,86.45M742.13,140.96L776.19,113.71M742.13,168.21L776.19,140.96M742.13,195.46L776.19,168.21M742.13,222.72L776.19,195.46M742.13,249.97L776.19,222.72M742.13,277.22L776.19,249.97M742.13,304.47L776.19,277.22M742.13,331.73L776.19,304.47M742.13,358.98L776.19,331.73M742.13,386.23L776.19,358.98M742.13,413.48L776.19,386.23M742.13,440.74L776.19,413.48M742.13,467.99L776.19,440.74M742.13,495.24L776.19,467.99M742.13,522.49L776.19,495.24M742.13,549.75L776.19,522.49M742.13,577.00L776.19,549.75M776.19,86.45L810.25,59.20M776.19,113.71L810.25,86.45M776.19,140.96L810.25,113.71M776.19,168.21L810.25,140.96M776.19,195.46L810.25,168.21M776.19,222.72L810.25,195.46M776.19,249.97L810.25,222.72M776.19,277.22L810.25,249.97M776.19,304.47L810.25,277.22M776.19,331.73L810.25,304.47M776.19,358.98L810.25,331.73M776.19,386.23L810.25,358.98M776.19,413.48L810.25,386.23M776.19,440.74L810.25,413.48M776.19,467.99L810.25,440.74M776.19,495.24L810.25,467.99M776.19,522.49L810.25,495.24M776.19,549.75L810.25,522.49M776.19,577.00L810.25,549.75M571.83,495.24L605.89,522.49M588.86,495.24V522.49M571.83,508.87H605.89M571.83,508.87L588.86,495.24M588.86,522.49L605.89,508.87M588.86,495.24L605.89,508.87M571.83,508.87L588.86,522.49M265.28,495.24L299.34,522.49M282.31,495.24V522.49M265.28,508.87H299.34M265.28,508.87L282.31,495.24M282.31,522.49L299.34,508.87M282.31,495.24L299.34,508.87M265.28,508.87L282.31,522.49M639.95,495.24L674.01,522.49M656.98,495.24V522.49M639.95,508.87H674.01M639.95,508.87L656.98,495.24M656.98,522.49L674.01,508.87M656.98,495.24L674.01,508.87M639.95,508.87L656.98,522.49M333.40,495.24L367.46,522.49M350.43,495.24V522.49M333.40,508.87H367.46M333.40,508.87L350.43,495.24M350.43,522.49L367.46,508.87M350.43,495.24L367.46,508.87M333.40,508.87L350.43,522.49M708.07,495.24L742.13,522.49M725.10,495.24V522.49M708.07,508.87H742.13M708.07,508.87L725.10,495.24M725.10,522.49L742.13,508.87M725.10,495.24L742.13,508.87M708.07,508.87L725.10,522.49M401.52,495.24L435.58,522.49M418.55,495.24V522.49M401.52,508.87H435.58M401.52,508.87L418.55,495.24M418.55,522.49L435.58,508.87M418.55,495.24L435.58,508.87M401.52,508.87L418.55,522.49M776.19,495.24L810.25,522.49M793.22,495.24V522.49M776.19,508.87H810.25M776.19,508.87L793.22,495.24M793.22,522.49L810.25,508.87M793.22,495.24L810.25,508.87M776.19,508.87L793.22,522.49M469.64,495.24L503.71,522.49M486.67,495.24V522.49M469.64,508.87H503.71M469.64,508.87L486.67,495.24M486.67,522.49L503.71,508.87M486.67,495.24L503.71,508.87M469.64,508.87L486.67,522.49M163.10,495.24L197.16,522.49M180.13,495.24V522.49M163.10,508.87H197.16M163.10,508.87L180.13,495.24M180.13,522.49L197.16,508.87M180.13,495.24L197.16,508.87M163.10,508.87L180.13,522.49M537.77,495.24L571.83,522.49M554.80,495.24V522.49M537.77,508.87H571.83M537.77,508.87L554.80,495.24M554.80,522.49L571.83,508.87M554.80,495.24L571.83,508.87M537.77,508.87L554.80,522.49M231.22,495.24L265.28,522.49M248.25,495.24V522.49M231.22,508.87H265.28M231.22,508.87L248.25,495.24M248.25,522.49L265.28,508.87M248.25,495.24L265.28,508.87M231.22,508.87L248.25,522.49M605.89,495.24L639.95,522.49M622.92,495.24V522.49M605.89,508.87H639.95M605.89,508.87L622.92,495.24M622.92,522.49L639.95,508.87M622.92,495.24L639.95,508.87M605.89,508.87L622.92,522.49M674.01,495.24L708.07,522.49M691.04,495.24V522.49M674.01,508.87H708.07M674.01,508.87L691.04,495.24M691.04,522.49L708.07,508.87M691.04,495.24L708.07,508.87M674.01,508.87L691.04,522.49M367.46,495.24L401.52,522.49M384.49,495.24V522.49M367.46,508.87H401.52M367.46,508.87L384.49,495.24M384.49,522.49L401.52,508.87M384.49,495.24L401.52,508.87M367.46,508.87L384.49,522.49M299.34,495.24L333.40,522.49M316.37,495.24V522.49M299.34,508.87H333.40M299.34,508.87L316.37,495.24M316.37,522.49L333.40,508.87M316.37,495.24L333.40,508.87M299.34,508.87L316.37,522.49M742.13,495.24L776.19,522.49M759.16,495.24V522.49M742.13,508.87H776.19M742.13,508.87L759.16,495.24M759.16,522.49L776.19,508.87M759.16,495.24L776.19,508.87M742.13,508.87L759.16,522.49M435.58,495.24L469.64,522.49M452.61,495.24V522.49M435.58,508.87H469.64M435.58,508.87L452.61,495.24M452.61,522.49L469.64,508.87M452.61,495.24L469.64,508.87M435.58,508.87L452.61,522.49M503.71,495.24L537.77,522.49M520.74,495.24V522.49M503.71,508.87H537.77M503.71,508.87L520.74,495.24M520.74,522.49L537.77,508.87M520.74,495.24L537.77,508.87M503.71,508.87L520.74,522.49M197.16,495.24L231.22,522.49M214.19,495.24V522.49M197.16,508.87H231.22M197.16,508.87L214.19,495.24M214.19,522.49L231.22,508.87M214.19,495.24L231.22,508.87M197.16,508.87L214.19,522.49" fill="none" clip-path="url(#cpg)" stroke="#000" stroke-opacity="0.02" stroke-width="1"/>
<path d="M197.16,59.20V577.00M231.22,59.20V577.00M265.28,59.20V577.00M299.34,59.20V577.00M333.40,59.20V577.00M367.46,59.20V577.00M401.52,59.20V577.00M435.58,59.20V577.00M469.64,59.20V577.00M503.71,59.20V577.00M537.77,59.20V577.00M571.83,59.20V577.00M605.89,59.20V577.00M639.95,59.20V577.00M674.01,59.20V577.00M708.07,59.20V577.00M742.13,59.20V577.00M776.19,59.20V577.00M163.10,86.45H810.25M163.10,113.71H810.25M163.10,140.96H810.25M163.10,168.21H810.25M163.10,195.46H810.25M163.10,222.72H810.25M163.10,249.97H810.25M163.10,277.22H810.25M163.10,304.47H810.25M163.10,331.73H810.25M163.10,358.98H810.25M163.10,386.23H810.25M163.10,413.48H810.25M163.10,440.74H810.25M163.10,467.99H810.25M163.10,495.24H810.25M163.10,522.49H810.25M163.10,549.75H810.25M163.10,86.45L197.16,59.20M163.10,113.71L197.16,86.45M163.10,140.96L197.16,113.71M163.10,168.21L197.16,140.96M163.10,195.46L197.16,168.21M163.10,222.72L197.16,195.46M163.10,249.97L197.16,222.72M163.10,277.22L197.16,249.97M163.10,304.47L197.16,277.22M163.10,331.73L197.16,304.47M163.10,358.98L197.16,331.73M163.10,386.23L197.16,358.98M163.10,413.48L197.16,386.23M163.10,440.74L197.16,413.48M163.10,467.99L197.16,440.74M163.10,495.24L197.16,467.99M163.10,522.49L197.16,495.24M163.10,549.75L197.16,522.49M163.10,577.00L197.16,549.75M197.16,86.45L231.22,59.20M197.16,113.71L231.22,86.45M197.16,140.96L231.22,113.71M197.16,168.21L231.22,140.96M197.16,195.46L231.22,168.21M197.16,222.72L231.22,195.46M197.16,249.97L231.22,222.72M197.16,277.22L231.22,249.97M197.16,304.47L231.22,277.22M197.16,331.73L231.22,304.47M197.16,358.98L231.22,331.73M197.16,386.23L231.22,358.98M197.16,413.48L231.22,386.23M197.16,440.74L231.22,413.48M197.16,467.99L231.22,440.74M197.16,495.24L231.22,467.99M197.16,522.49L231.22,495.24M197.16,549.75L231.22,522.49M197.16,577.00L231.22,549.75M231.22,86.45L265.28,59.20M231.22,113.71L265.28,86.45M231.22,140.96L265.28,113.71M231.22,168.21L265.28,140.96M231.22,195.46L265.28,168.21M231.22,222.72L265.28,195.46M231.22,249.97L265.28,222.72M231.22,277.22L265.28,249.97M231.22,304.47L265.28,277.22M231.22,331.73L265.28,304.47M231.22,358.98L265.28,331.73M231.22,386.23L265.28,358.98M231.22,413.48L265.28,386.23M231.22,440.74L265.28,413.48M231.22,467.99L265.28,440.74M231.22,495.24L265.28,467.99M231.22,522.49L265.28,495.24M231.22,549.75L265.28,522.49M231.22,577.00L265.28,549.75M265.28,86.45L299.34,59.20M265.28,113.71L299.34,86.45M265.28,140.96L299.34,113.71M265.28,168.21L299.34,140.96M265.28,195.46L299.34,168.21M265.28,222.72L299.34,195.46M265.28,249.97L299.34,222.72M265.28,277.22L299.34,249.97M265.28,304.47L299.34,277.22M265.28,331.73L299.34,304.47M265.28,358.98L299.34,331.73M265.28,386.23L299.34,358.98M265.28,413.48L299.34,386.23M265.28,440.74L299.34,413.48M265.28,467.99L299.34,440.74M265.28,495.24L299.34,467.99M265.28,522.49L299.34,495.24M265.28,549.75L299.34,522.49M265.28,577.00L299.34,549.75M299.34,86.45L333.40,59.20M299.34,113.71L333.40,86.45M299.34,140.96L333.40,113.71M299.34,168.21L333.40,140.96M299.34,195.46L333.40,168.21M299.34,222.72L333.40,195.46M299.34,249.97L333.40,222.72M299.34,277.22L333.40,249.97M299.34,304.47L333.40,277.22M299.34,331.73L333.40,304.47M299.34,358.98L333.40,331.73M299.34,386.23L333.40,358.98M299.34,413.48L333.40,386.23M299.34,440.74L333.40,413.48M299.34,467.99L333.40,440.74M299.34,495.24L333.40,467.99M299.34,522.49L333.40,495.24M299.34,549.75L333.40,522.49M299.34,577.00L333.40,549.75M333.40,86.45L367.46,59.20M333.40,113.71L367.46,86.45M333.40,140.96L367.46,113.71M333.40,168.21L367.46,140.96M333.40,195.46L367.46,168.21M333.40,222.72L367.46,195.46M333.40,249.97L367.46,222.72M333.40,277.22L367.46,249.97M333.40,304.47L367.46,277.22M333.40,331.73L367.46,304.47M333.40,358.98L367.46,331.73M333.40,386.23L367.46,358.98M333.40,413.48L367.46,386.23M333.40,440.74L367.46,413.48M333.40,467.99L367.46,440.74M333.40,495.24L367.46,467.99M333.40,522.49L367.46,495.24M333.40,549.75L367.46,522.49M333.40,577.00L367.46,549.75M367.46,86.45L401.52,59.20M367.46,113.71L401.52,86.45M367.46,140.96L401.52,113.71M367.46,168.21L401.52,140.96M367.46,195.46L401.52,168.21M367.46,222.72L401.52,195.46M367.46,249.97L401.52,222.72M367.46,277.22L401.52,249.97M367.46,304.47L401.52,277.22M367.46,331.73L401.52,304.47M367.46,358.98L401.52,331.73M367.46,386.23L401.52,358.98M367.46,413.48L401.52,386.23M367.46,440.74L401.52,413.48M367.46,467.99L401.52,440.74M367.46,495.24L401.52,467.99M367.46,522.49L401.52,495.24M367.46,549.75L401.52,522.49M367.46,577.00L401.52,549.75M401.52,86.45L435.58,59.20M401.52,113.71L435.58,86.45M401.52,140.96L435.58,113.71M401.52,168.21L435.58,140.96M401.52,195.46L435.58,168.21M401.52,222.72L435.58,195.46M401.52,249.97L435.58,222.72M401.52,277.22L435.58,249.97M401.52,304.47L435.58,277.22M401.52,331.73L435.58,304.47M401.52,358.98L435.58,331.73M401.52,386.23L435.58,358.98M401.52,413.48L435.58,386.23M401.52,440.74L435.58,413.48M401.52,467.99L435.58,440.74M401.52,495.24L435.58,467.99M401.52,522.49L435.58,495.24M401.52,549.75L435.58,522.49M401.52,577.00L435.58,549.75M435.58,86.45L469.64,59.20M435.58,113.71L469.64,86.45M435.58,140.96L469.64,113.71M435.58,168.21L469.64,140.96M435.58,195.46L469.64,168.21M435.58,222.72L469.64,195.46M435.58,249.97L469.64,222.72M435.58,277.22L469.64,249.97M435.58,304.47L469.64,277.22M435.58,331.73L469.64,304.47M435.58,358.98L469.64,331.73M435.58,386.23L469.64,358.98M435.58,413.48L469.64,386.23M435.58,440.74L469.64,413.48M435.58,467.99L469.64,440.74M435.58,495.24L469.64,467.99M435.58,522.49L469.64,495.24M435.58,549.75L469.64,522.49M435.58,577.00L469.64,549.75M469.64,86.45L503.71,59.20M469.64,113.71L503.71,86.45M469.64,140.96L503.71,113.71M469.64,168.21L503.71,140.96M469.64,195.46L503.71,168.21M469.64,222.72L503.71,195.46M469.64,249.97L503.71,222.72M469.64,277.22L503.71,249.97M469.64,304.47L503.71,277.22M469.64,331.73L503.71,304.47M469.64,358.98L503.71,331.73M469.64,386.23L503.71,358.98M469.64,413.48L503.71,386.23M469.64,440.74L503.71,413.48M469.64,467.99L503.71,440.74M469.64,495.24L503.71,467.99M469.64,522.49L503.71,495.24M469.64,549.75L503.71,522.49M469.64,577.00L503.71,549.75M503.71,86.45L537.77,59.20M503.71,113.71L537.77,86.45M503.71,140.96L537.77,113.71M503.71,168.21L537.77,140.96M503.71,195.46L537.77,168.21M503.71,222.72L537.77,195.46M503.71,249.97L537.77,222.72M503.71,277.22L537.77,249.97M503.71,304.47L537.77,277.22M503.71,331.73L537.77,304.47M503.71,358.98L537.77,331.73M503.71,386.23L537.77,358.98M503.71,413.48L537.77,386.23M503.71,440.74L537.77,413.48M503.71,467.99L537.77,440.74M503.71,495.24L537.77,467.99M503.71,522.49L537.77,495.24M503.71,549.75L537.77,522.49M503.71,577.00L537.77,549.75M537.77,86.45L571.83,59.20M537.77,113.71L571.83,86.45M537.77,140.96L571.83,113.71M537.77,168.21L571.83,140.96M537.77,195.46L571.83,168.21M537.77,222.72L571.83,195.46M537.77,249.97L571.83,222.72M537.77,277.22L571.83,249.97M537.77,304.47L571.83,277.22M537.77,331.73L571.83,304.47M537.77,358.98L571.83,331.73M537.77,386.23L571.83,358.98M537.77,413.48L571.83,386.23M537.77,440.74L571.83,413.48M537.77,467.99L571.83,440.74M537.77,495.24L571.83,467.99M537.77,522.49L571.83,495.24M537.77,549.75L571.83,522.49M537.77,577.00L571.83,549.75M571.83,86.45L605.89,59.20M571.83,113.71L605.89,86.45M571.83,140.96L605.89,113.71M571.83,168.21L605.89,140.96M571.83,195.46L605.89,168.21M571.83,222.72L605.89,195.46M571.83,249.97L605.89,222.72M571.83,277.22L605.89,249.97M571.83,304.47L605.89,277.22M571.83,331.73L605.89,304.47M571.83,358.98L605.89,331.73M571.83,386.23L605.89,358.98M571.83,413.48L605.89,386.23M571.83,440.74L605.89,413.48M571.83,467.99L605.89,440.74M571.83,495.24L605.89,467.99M571.83,522.49L605.89,495.24M571.83,549.75L605.89,522.49M571.83,577.00L605.89,549.75M605.89,86.45L639.95,59.20M605.89,113.71L639.95,86.45M605.89,140.96L639.95,113.71M605.89,168.21L639.95,140.96M605.89,195.46L639.95,168.21M605.89,222.72L639.95,195.46M605.89,249.97L639.95,222.72M605.89,277.22L639.95,249.97M605.89,304.47L639.95,277.22M605.89,331.73L639.95,304.47M605.89,358.98L639.95,331.73M605.89,386.23L639.95,358.98M605.89,413.48L639.95,386.23M605.89,440.74L639.95,413.48M605.89,467.99L639.95,440.74M605.89,495.24L639.95,467.99M605.89,522.49L639.95,495.24M605.89,549.75L639.95,522.49M605.89,577.00L639.95,549.75M639.95,86.45L674.01,59.20M639.95,113.71L674.01,86.45M639.95,140.96L674.01,113.71M639.95,168.21L674.01,140.96M639.95,195.46L674.01,168.21M639.95,222.72L674.01,195.46M639.95,249.97L674.01,222.72M639.95,277.22L674.01,249.97M639.95,304.47L674.01,277.22M639.95,331.73L674.01,304.47M639.95,358.98L674.01,331.73M639.95,386.23L674.01,358.98M639.95,413.48L674.01,386.23M639.95,440.74L674.01,413.48M639.95,467.99L674.01,440.74M639.95,495.24L674.01,467.99M639.95,522.49L674.01,495.24M639.95,549.75L674.01,522.49M639.95,577.00L674.01,549.75M674.01,86.45L708.07,59.20M674.01,113.71L708.07,86.45M674.01,140.96L708.07,113.71M674.01,168.21L708.07,140.96M674.01,195.46L708.07,168.21M674.01,222.72L708.07,195.46M674.01,249.97L708.07,222.72M674.01,277.22L708.07,249.97M674.01,304.47L708.07,277.22M674.01,331.73L708.07,304.47M674.01,358.98L708.07,331.73M674.01,386.23L708.07,358.98M674.01,413.48L708.07,386.23M674.01,440.74L708.07,413.48M674.01,467.99L708.07,440.74M674.01,495.24L708.07,467.99M674.01,522.49L708.07,495.24M674.01,549.75L708.07,522.49M674.01,577.00L708.07,549.75M708.07,86.45L742.13,59.20M708.07,113.71L742.13,86.45M708.07,140.96L742.13,113.71M708.07,168.21L742.13,140.96M708.07,195.46L742.13,168.21M708.07,222.72L742.13,195.46M708.07,249.97L742.13,222.72M708.07,277.22L742.13,249.97M708.07,304.47L742.13,277.22M708.07,331.73L742.13,304.47M708.07,358.98L742.13,331.73M708.07,386.23L742.13,358.98M708.07,413.48L742.13,386.23M708.07,440.74L742.13,413.48M708.07,467.99L742.13,440.74M708.07,495.24L742.13,467.99M708.07,522.49L742.13,495.24M708.07,549.75L742.13,522.49M708.07,577.00L742.13,549.75M742.13,86.45L776.19,59.20M742.13,113.71L776.19,86.45M742.13,140.96L776.19,113.71M742.13,168.21L776.19,140.96M742.13,195.46L776.19,168.21M742.13,222.72L776.19,195.46M742.13,249.97L776.19,222.72M742.13,277.22L776.19,249.97M742.13,304.47L776.19,277.22M742.13,331.73L776.19,304.47M742.13,358.98L776.19,331.73M742.13,386.23L776.19,358.98M742.13,413.48L776.19,386.23M742.13,440.74L776.19,413.48M742.13,467.99L776.19,440.74M742.13,495.24L776.19,467.99M742.13,522.49L776.19,495.24M742.13,549.75L776.19,522.49M742.13,577.00L776.19,549.75M776.19,86.45L810.25,59.20M776.19,113.71L810.25,86.45M776.19,140.96L810.25,113.71M776.19,168.21L810.25,140.96M776.19,195.46L810.25,168.21M776.19,222.72L810.25,195.46M776.19,249.97L810.25,222.72M776.19,277.22L810.25,249.97M776.19,304.47L810.25,277.22M776.19,331.73L810.25,304.47M776.19,358.98L810.25,331.73M776.19,386.23L810.25,358.98M776.19,413.48L810.25,386.23M776.19,440.74L810.25,413.48M776.19,467.99L810.25,440.74M776.19,495.24L810.25,467.99M776.19,522.49L810.25,495.24M776.19,549.75L810.25,522.49M776.19,577.00L810.25,549.75M367.46,386.23L401.52,413.48M571.83,249.97L605.89,277.22M639.95,168.21L674.01,195.46M571.83,331.73L605.89,358.98M265.28,495.24L299.34,522.49M333.40,413.48L367.46,440.74M299.34,467.99L333.40,495.24M742.13,222.72L776.19,249.97M299.34,549.75L333.40,577.00M469.64,440.74L503.71,467.99M503.71,304.47L537.77,331.73M537.77,277.22L571.83,304.47M435.58,467.99L469.64,495.24M503.71,386.23L537.77,413.48M605.89,195.46L639.95,222.72M537.77,358.98L571.83,386.23M708.07,249.97L742.13,277.22M776.19,168.21L810.25,195.46M197.16,549.75L231.22,577.00M231.22,522.49L265.28,549.75M674.01,277.22L708.07,304.47M776.19,86.45L810.25,113.71M401.52,495.24L435.58,522.49M367.46,522.49L401.52,549.75M571.83,222.72L605.89,249.97M742.13,113.71L776.19,140.96M639.95,304.47L674.01,331.73M299.34,440.74L333.40,467.99M742.13,195.46L776.19,222.72M265.28,467.99L299.34,495.24M435.58,358.98L469.64,386.23M333.40,549.75L367.46,577.00M469.64,331.73L503.71,358.98M537.77,249.97L571.83,277.22M435.58,440.74L469.64,467.99M469.64,413.48L503.71,440.74M503.71,277.22L537.77,304.47M674.01,168.21L708.07,195.46M708.07,140.96L742.13,168.21M605.89,331.73L639.95,358.98M674.01,249.97L708.07,277.22M231.22,495.24L265.28,522.49M708.07,222.72L742.13,249.97M197.16,522.49L231.22,549.75M367.46,413.48L401.52,440.74M401.52,386.23L435.58,413.48M367.46,495.24L401.52,522.49M401.52,467.99L435.58,495.24M571.83,358.98L605.89,386.23M639.95,195.46L674.01,222.72M639.95,277.22L674.01,304.47M742.13,86.45L776.19,113.71M469.64,304.47L503.71,331.73M333.40,440.74L367.46,467.99M333.40,522.49L367.46,549.75M435.58,331.73L469.64,358.98M503.71,413.48L537.77,440.74M537.77,386.23L571.83,413.48M708.07,113.71L742.13,140.96M605.89,304.47L639.95,331.73M605.89,222.72L639.95,249.97M674.01,140.96L708.07,168.21M776.19,195.46L810.25,222.72M401.52,358.98L435.58,386.23M367.46,467.99L401.52,495.24M384.49,467.99V495.24M367.46,481.62H401.52M367.46,481.62L384.49,467.99M384.49,495.24L401.52,481.62M384.49,467.99L401.52,481.62M367.46,481.62L384.49,495.24M639.95,249.97L674.01,277.22M656.98,249.97V277.22M639.95,263.59H674.01M639.95,263.59L656.98,249.97M656.98,277.22L674.01,263.59M656.98,249.97L674.01,263.59M639.95,263.59L656.98,277.22M742.13,140.96L776.19,168.21M759.16,140.96V168.21M742.13,154.58H776.19M742.13,154.58L759.16,140.96M759.16,168.21L776.19,154.58M759.16,140.96L776.19,154.58M742.13,154.58L759.16,168.21M333.40,495.24L367.46,522.49M350.43,495.24V522.49M333.40,508.87H367.46M333.40,508.87L350.43,495.24M350.43,522.49L367.46,508.87M350.43,495.24L367.46,508.87M333.40,508.87L350.43,522.49M435.58,386.23L469.64,413.48M452.61,386.23V413.48M435.58,399.86H469.64M435.58,399.86L452.61,386.23M452.61,413.48L469.64,399.86M452.61,386.23L469.64,399.86M435.58,399.86L452.61,413.48M469.64,358.98L503.71,386.23M486.67,358.98V386.23M469.64,372.61H503.71M469.64,372.61L486.67,358.98M486.67,386.23L503.71,372.61M486.67,358.98L503.71,372.61M469.64,372.61L486.67,386.23M708.07,168.21L742.13,195.46M725.10,168.21V195.46M708.07,181.84H742.13M708.07,181.84L725.10,168.21M725.10,195.46L742.13,181.84M725.10,168.21L742.13,181.84M708.07,181.84L725.10,195.46M605.89,277.22L639.95,304.47M622.92,277.22V304.47M605.89,290.85H639.95M605.89,290.85L622.92,277.22M622.92,304.47L639.95,290.85M622.92,277.22L639.95,290.85M605.89,290.85L622.92,304.47M674.01,195.46L708.07,222.72M691.04,195.46V222.72M674.01,209.09H708.07M674.01,209.09L691.04,195.46M691.04,222.72L708.07,209.09M691.04,195.46L708.07,209.09M674.01,209.09L691.04,222.72M367.46,440.74L401.52,467.99M384.49,440.74V467.99M367.46,454.36H401.52M367.46,454.36L384.49,440.74M384.49,467.99L401.52,454.36M384.49,440.74L401.52,454.36M367.46,454.36L384.49,467.99M401.52,413.48L435.58,440.74M418.55,413.48V440.74M401.52,427.11H435.58M401.52,427.11L418.55,413.48M418.55,440.74L435.58,427.11M418.55,413.48L435.58,427.11M401.52,427.11L418.55,440.74M571.83,304.47L605.89,331.73M588.86,304.47V331.73M571.83,318.10H605.89M571.83,318.10L588.86,304.47M588.86,331.73L605.89,318.10M588.86,304.47L605.89,318.10M571.83,318.10L588.86,331.73M639.95,222.72L674.01,249.97M656.98,222.72V249.97M639.95,236.34H674.01M639.95,236.34L656.98,222.72M656.98,249.97L674.01,236.34M656.98,222.72L674.01,236.34M639.95,236.34L656.98,249.97M265.28,549.75L299.34,577.00M282.31,549.75V577.00M265.28,563.37H299.34M265.28,563.37L282.31,549.75M282.31,577.00L299.34,563.37M282.31,549.75L299.34,563.37M265.28,563.37L282.31,577.00M299.34,522.49L333.40,549.75M316.37,522.49V549.75M299.34,536.12H333.40M299.34,536.12L316.37,522.49M316.37,549.75L333.40,536.12M316.37,522.49L333.40,536.12M299.34,536.12L316.37,549.75M333.40,467.99L367.46,495.24M350.43,467.99V495.24M333.40,481.62H367.46M333.40,481.62L350.43,467.99M350.43,495.24L367.46,481.62M350.43,467.99L367.46,481.62M333.40,481.62L350.43,495.24M503.71,358.98L537.77,386.23M520.74,358.98V386.23M503.71,372.61H537.77M503.71,372.61L520.74,358.98M520.74,386.23L537.77,372.61M520.74,358.98L537.77,372.61M503.71,372.61L520.74,386.23M537.77,331.73L571.83,358.98M554.80,331.73V358.98M537.77,345.35H571.83M537.77,345.35L554.80,331.73M554.80,358.98L571.83,345.35M554.80,331.73L571.83,345.35M537.77,345.35L554.80,358.98M605.89,249.97L639.95,277.22M622.92,249.97V277.22M605.89,263.59H639.95M605.89,263.59L622.92,249.97M622.92,277.22L639.95,263.59M622.92,249.97L639.95,263.59M605.89,263.59L622.92,277.22M776.19,140.96L810.25,168.21M793.22,140.96V168.21M776.19,154.58H810.25M776.19,154.58L793.22,140.96M793.22,168.21L810.25,154.58M793.22,140.96L810.25,154.58M776.19,154.58L793.22,168.21M571.83,277.22L605.89,304.47M588.86,277.22V304.47M571.83,290.85H605.89M571.83,290.85L588.86,277.22M588.86,304.47L605.89,290.85M588.86,277.22L605.89,290.85M571.83,290.85L588.86,304.47M742.13,168.21L776.19,195.46M759.16,168.21V195.46M742.13,181.84H776.19M742.13,181.84L759.16,168.21M759.16,195.46L776.19,181.84M759.16,168.21L776.19,181.84M742.13,181.84L759.16,195.46M299.34,495.24L333.40,522.49M316.37,495.24V522.49M299.34,508.87H333.40M299.34,508.87L316.37,495.24M316.37,522.49L333.40,508.87M316.37,495.24L333.40,508.87M299.34,508.87L316.37,522.49M265.28,522.49L299.34,549.75M282.31,522.49V549.75M265.28,536.12H299.34M265.28,536.12L282.31,522.49M282.31,549.75L299.34,536.12M282.31,522.49L299.34,536.12M265.28,536.12L282.31,549.75M469.64,386.23L503.71,413.48M486.67,386.23V413.48M469.64,399.86H503.71M469.64,399.86L486.67,386.23M486.67,413.48L503.71,399.86M486.67,386.23L503.71,399.86M469.64,399.86L486.67,413.48M537.77,304.47L571.83,331.73M554.80,304.47V331.73M537.77,318.10H571.83M537.77,318.10L554.80,304.47M554.80,331.73L571.83,318.10M554.80,304.47L571.83,318.10M537.77,318.10L554.80,331.73M435.58,413.48L469.64,440.74M452.61,413.48V440.74M435.58,427.11H469.64M435.58,427.11L452.61,413.48M452.61,440.74L469.64,427.11M452.61,413.48L469.64,427.11M435.58,427.11L452.61,440.74M503.71,331.73L537.77,358.98M520.74,331.73V358.98M503.71,345.35H537.77M503.71,345.35L520.74,331.73M520.74,358.98L537.77,345.35M520.74,331.73L537.77,345.35M503.71,345.35L520.74,358.98M674.01,222.72L708.07,249.97M691.04,222.72V249.97M674.01,236.34H708.07M674.01,236.34L691.04,222.72M691.04,249.97L708.07,236.34M691.04,222.72L708.07,236.34M674.01,236.34L691.04,249.97M708.07,195.46L742.13,222.72M725.10,195.46V222.72M708.07,209.09H742.13M708.07,209.09L725.10,195.46M725.10,222.72L742.13,209.09M725.10,195.46L742.13,209.09M708.07,209.09L725.10,222.72M231.22,549.75L265.28,577.00M248.25,549.75V577.00M231.22,563.37H265.28M231.22,563.37L248.25,549.75M248.25,577.00L265.28,563.37M248.25,549.75L265.28,563.37M231.22,563.37L248.25,577.00M776.19,113.71L810.25,140.96M793.22,113.71V140.96M776.19,127.33H810.25M776.19,127.33L793.22,113.71M793.22,140.96L810.25,127.33M793.22,113.71L810.25,127.33M776.19,127.33L793.22,140.96M401.52,440.74L435.58,467.99M418.55,440.74V467.99M401.52,454.36H435.58M401.52,454.36L418.55,440.74M418.55,467.99L435.58,454.36M418.55,440.74L435.58,454.36M401.52,454.36L418.55,467.99" fill="none" clip-path="url(#cpk)" stroke="#ff0000" stroke-opacity="0.05" stroke-width="1"/>
<path d="M197.16,59.20V577.00M231.22,59.20V577.00M265.28,59.20V577.00M299.34,59.20V577.00M333.40,59.20V577.00M367.46,59.20V577.00M401.52,59.20V577.00M435.58,59.20V577.00M469.64,59.20V577.00M503.71,59.20V577.00M537.77,59.20V577.00M571.83,59.20V577.00M605.89,59.20V577.00M639.95,59.20V577.00M674.01,59.20V577.00M708.07,59.20V577.00M742.13,59.20V577.00M776.19,59.20V577.00M163.10,86.45H810.25M163.10,113.71H810.25M163.10,140.96H810.25M163.10,168.21H810.25M163.10,195.46H810.25M163.10,222.72H810.25M163.10,249.97H810.25M163.10,277.22H810.25M163.10,304.47H810.25M163.10,331.73H810.25M163.10,358.98H810.25M163.10,386.23H810.25M163.10,413.48H810.25M163.10,440.74H810.25M163.10,467.99H810.25M163.10,495.24H810.25M163.10,522.49H810.25M163.10,549.75H810.25M163.10,86.45L197.16,59.20M163.10,113.71L197.16,86.45M163.10,140.96L197.16,113.71M163.10,168.21L197.16,140.96M163.10,195.46L197.16,168.21M163.10,222.72L197.16,195.46M163.10,249.97L197.16,222.72M163.10,277.22L197.16,249.97M163.10,304.47L197.16,277.22M163.10,331.73L197.16,304.47M163.10,358.98L197.16,331.73M163.10,386.23L197.16,358.98M163.10,413.48L197.16,386.23M163.10,440.74L197.16,413.48M163.10,467.99L197.16,440.74M163.10,495.24L197.16,467.99M163.10,522.49L197.16,495.24M163.10,549.75L197.16,522.49M163.10,577.00L197.16,549.75M197.16,86.45L231.22,59.20M197.16,113.71L231.22,86.45M197.16,140.96L231.22,113.71M197.16,168.21L231.22,140.96M197.16,195.46L231.22,168.21M197.16,222.72L231.22,195.46M197.16,249.97L231.22,222.72M197.16,277.22L231.22,249.97M197.16,304.47L231.22,277.22M197.16,331.73L231.22,304.47M197.16,358.98L231.22,331.73M197.16,386.23L231.22,358.98M197.16,413.48L231.22,386.23M197.16,440.74L231.22,413.48M197.16,467.99L231.22,440.74M197.16,495.24L231.22,467.99M197.16,522.49L231.22,495.24M197.16,549.75L231.22,522.49M197.16,577.00L231.22,549.75M231.22,86.45L265.28,59.20M231.22,113.71L265.28,86.45M231.22,140.96L265.28,113.71M231.22,168.21L265.28,140.96M231.22,195.46L265.28,168.21M231.22,222.72L265.28,195.46M231.22,249.97L265.28,222.72M231.22,277.22L265.28,249.97M231.22,304.47L265.28,277.22M231.22,331.73L265.28,304.47M231.22,358.98L265.28,331.73M231.22,386.23L265.28,358.98M231.22,413.48L265.28,386.23M231.22,440.74L265.28,413.48M231.22,467.99L265.28,440.74M231.22,495.24L265.28,467.99M231.22,522.49L265.28,495.24M231.22,549.75L265.28,522.49M231.22,577.00L265.28,549.75M265.28,86.45L299.34,59.20M265.28,113.71L299.34,86.45M265.28,140.96L299.34,113.71M265.28,168.21L299.34,140.96M265.28,195.46L299.34,168.21M265.28,222.72L299.34,195.46M265.28,249.97L299.34,222.72M265.28,277.22L299.34,249.97M265.28,304.47L299.34,277.22M265.28,331.73L299.34,304.47M265.28,358.98L299.34,331.73M265.28,386.23L299.34,358.98M265.28,413.48L299.34,386.23M265.28,440.74L299.34,413.48M265.28,467.99L299.34,440.74M265.28,495.24L299.34,467.99M265.28,522.49L299.34,495.24M265.28,549.75L299.34,522.49M265.28,577.00L299.34,549.75M299.34,86.45L333.40,59.20M299.34,113.71L333.40,86.45M299.34,140.96L333.40,113.71M299.34,168.21L333.40,140.96M299.34,195.46L333.40,168.21M299.34,222.72L333.40,195.46M299.34,249.97L333.40,222.72M299.34,277.22L333.40,249.97M299.34,304.47L333.40,277.22M299.34,331.73L333.40,304.47M299.34,358.98L333.40,331.73M299.34,386.23L333.40,358.98M299.34,413.48L333.40,386.23M299.34,440.74L333.40,413.48M299.34,467.99L333.40,440.74M299.34,495.24L333.40,467.99M299.34,522.49L333.40,495.24M299.34,549.75L333.40,522.49M299.34,577.00L333.40,549.75M333.40,86.45L367.46,59.20M333.40,113.71L367.46,86.45M333.40,140.96L367.46,113.71M333.40,168.21L367.46,140.96M333.40,195.46L367.46,168.21M333.40,222.72L367.46,195.46M333.40,249.97L367.46,222.72M333.40,277.22L367.46,249.97M333.40,304.47L367.46,277.22M333.40,331.73L367.46,304.47M333.40,358.98L367.46,331.73M333.40,386.23L367.46,358.98M333.40,413.48L367.46,386.23M333.40,440.74L367.46,413.48M333.40,467.99L367.46,440.74M333.40,495.24L367.46,467.99M333.40,522.49L367.46,495.24M333.40,549.75L367.46,522.49M333.40,577.00L367.46,549.75M367.46,86.45L401.52,59.20M367.46,113.71L401.52,86.45M367.46,140.96L401.52,113.71M367.46,168.21L401.52,140.96M367.46,195.46L401.52,168.21M367.46,222.72L401.52,195.46M367.46,249.97L401.52,222.72M367.46,277.22L401.52,249.97M367.46,304.47L401.52,277.22M367.46,331.73L401.52,304.47M367.46,358.98L401.52,331.73M367.46,386.23L401.52,358.98M367.46,413.48L401.52,386.23M367.46,440.74L401.52,413.48M367.46,467.99L401.52,440.74M367.46,495.24L401.52,467.99M367.46,522.49L401.52,495.24M367.46,549.75L401.52,522.49M367.46,577.00L401.52,549.75M401.52,86.45L435.58,59.20M401.52,113.71L435.58,86.45M401.52,140.96L435.58,113.71M401.52,168.21L435.58,140.96M401.52,195.46L435.58,168.21M401.52,222.72L435.58,195.46M401.52,249.97L435.58,222.72M401.52,277.22L435.58,249.97M401.52,304.47L435.58,277.22M401.52,331.73L435.58,304.47M401.52,358.98L435.58,331.73M401.52,386.23L435.58,358.98M401.52,413.48L435.58,386.23M401.52,440.74L435.58,413.48M401.52,467.99L435.58,440.74M401.52,495.24L435.58,467.99M401.52,522.49L435.58,495.24M401.52,549.75L435.58,522.49M401.52,577.00L435.58,549.75M435.58,86.45L469.64,59.20M435.58,113.71L469.64,86.45M435.58,140.96L469.64,113.71M435.58,168.21L469.64,140.96M435.58,195.46L469.64,168.21M435.58,222.72L469.64,195.46M435.58,249.97L469.64,222.72M435.58,277.22L469.64,249.97M435.58,304.47L469.64,277.22M435.58,331.73L469.64,304.47M435.58,358.98L469.64,331.73M435.58,386.23L469.64,358.98M435.58,413.48L469.64,386.23M435.58,440.74L469.64,413.48M435.58,467.99L469.64,440.74M435.58,495.24L469.64,467.99M435.58,522.49L469.64,495.24M435.58,549.75L469.64,522.49M435.58,577.00L469.64,549.75M469.64,86.45L503.71,59.20M469.64,113.71L503.71,86.45M469.64,140.96L503.71,113.71M469.64,168.21L503.71,140.96M469.64,195.46L503.71,168.21M469.64,222.72L503.71,195.46M469.64,249.97L503.71,222.72M469.64,277.22L503.71,249.97M469.64,304.47L503.71,277.22M469.64,331.73L503.71,304.47M469.64,358.98L503.71,331.73M469.64,386.23L503.71,358.98M469.64,413.48L503.71,386.23M469.64,440.74L503.71,413.48M469.64,467.99L503.71,440.74M469.64,495.24L503.71,467.99M469.64,522.49L503.71,495.24M469.64,549.75L503.71,522.49M469.64,577.00L503.71,549.75M503.71,86.45L537.77,59.20M503.71,113.71L537.77,86.45M503.71,140.96L537.77,113.71M503.71,168.21L537.77,140.96M503.71,195.46L537.77,168.21M503.71,222.72L537.77,195.46M503.71,249.97L537.77,222.72M503.71,277.22L537.77,249.97M503.71,304.47L537.77,277.22M503.71,331.73L537.77,304.47M503.71,358.98L537.77,331.73M503.71,386.23L537.77,358.98M503.71,413.48L537.77,386.23M503.71,440.74L537.77,413.48M503.71,467.99L537.77,440.74M503.71,495.24L537.77,467.99M503.71,522.49L537.77,495.24M503.71,549.75L537.77,522.49M503.71,577.00L537.77,549.75M537.77,86.45L571.83,59.20M537.77,113.71L571.83,86.45M537.77,140.96L571.83,113.71M537.77,168.21L571.83,140.96M537.77,195.46L571.83,168.21M537.77,222.72L571.83,195.46M537.77,249.97L571.83,222.72M537.77,277.22L571.83,249.97M537.77,304.47L571.83,277.22M537.77,331.73L571.83,304.47M537.77,358.98L571.83,331.73M537.77,386.23L571.83,358.98M537.77,413.48L571.83,386.23M537.77,440.74L571.83,413.48M537.77,467.99L571.83,440.74M537.77,495.24L571.83,467.99M537.77,522.49L571.83,495.24M537.77,549.75L571.83,522.49M537.77,577.00L571.83,549.75M571.83,86.45L605.89,59.20M571.83,113.71L605.89,86.45M571.83,140.96L605.89,113.71M571.83,168.21L605.89,140.96M571.83,195.46L605.89,168.21M571.83,222.72L605.89,195.46M571.83,249.97L605.89,222.72M571.83,277.22L605.89,249.97M571.83,304.47L605.89,277.22M571.83,331.73L605.89,304.47M571.83,358.98L605.89,331.73M571.83,386.23L605.89,358.98M571.83,413.48L605.89,386.23M571.83,440.74L605.89,413.48M571.83,467.99L605.89,440.74M571.83,495.24L605.89,467.99M571.83,522.49L605.89,495.24M571.83,549.75L605.89,522.49M571.83,577.00L605.89,549.75M605.89,86.45L639.95,59.20M605.89,113.71L639.95,86.45M605.89,140.96L639.95,113.71M605.89,168.21L639.95,140.96M605.89,195.46L639.95,168.21M605.89,222.72L639.95,195.46M605.89,249.97L639.95,222.72M605.89,277.22L639.95,249.97M605.89,304.47L639.95,277.22M605.89,331.73L639.95,304.47M605.89,358.98L639.95,331.73M605.89,386.23L639.95,358.98M605.89,413.48L639.95,386.23M605.89,440.74L639.95,413.48M605.89,467.99L639.95,440.74M605.89,495.24L639.95,467.99M605.89,522.49L639.95,495.24M605.89,549.75L639.95,522.49M605.89,577.00L639.95,549.75M639.95,86.45L674.01,59.20M639.95,113.71L674.01,86.45M639.95,140.96L674.01,113.71M639.95,168.21L674.01,140.96M639.95,195.46L674.01,168.21M639.95,222.72L674.01,195.46M639.95,249.97L674.01,222.72M639.95,277.22L674.01,249.97M639.95,304.47L674.01,277.22M639.95,331.73L674.01,304.47M639.95,358.98L674.01,331.73M639.95,386.23L674.01,358.98M639.95,413.48L674.01,386.23M639.95,440.74L674.01,413.48M639.95,467.99L674.01,440.74M639.95,495.24L674.01,467.99M639.95,522.49L674.01,495.24M639.95,549.75L674.01,522.49M639.95,577.00L674.01,549.75M674.01,86.45L708.07,59.20M674.01,113.71L708.07,86.45M674.01,140.96L708.07,113.71M674.01,168.21L708.07,140.96M674.01,195.46L708.07,168.21M674.01,222.72L708.07,195.46M674.01,249.97L708.07,222.72M674.01,277.22L708.07,249.97M674.01,304.47L708.07,277.22M674.01,331.73L708.07,304.47M674.01,358.98L708.07,331.73M674.01,386.23L708.07,358.98M674.01,413.48L708.07,386.23M674.01,440.74L708.07,413.48M674.01,467.99L708.07,440.74M674.01,495.24L708.07,467.99M674.01,522.49L708.07,495.24M674.01,549.75L708.07,522.49M674.01,577.00L708.07,549.75M708.07,86.45L742.13,59.20M708.07,113.71L742.13,86.45M708.07,140.96L742.13,113.71M708.07,168.21L742.13,140.96M708.07,195.46L742.13,168.21M708.07,222.72L742.13,195.46M708.07,249.97L742.13,222.72M708.07,277.22L742.13,249.97M708.07,304.47L742.13,277.22M708.07,331.73L742.13,304.47M708.07,358.98L742.13,331.73M708.07,386.23L742.13,358.98M708.07,413.48L742.13,386.23M708.07,440.74L742.13,413.48M708.07,467.99L742.13,440.74M708.07,495.24L742.13,467.99M708.07,522.49L742.13,495.24M708.07,549.75L742.13,522.49M708.07,577.00L742.13,549.75M742.13,86.45L776.19,59.20M742.13,113.71L776.19,86.45M742.13,140.96L776.19,113.71M742.13,168.21L776.19,140.96M742.13,195.46L776.19,168.21M742.13,222.72L776.19,195.46M742.13,249.97L776.19,222.72M742.13,277.22L776.19,249.97M742.13,304.47L776.19,277.22M742.13,331.73L776.19,304.47M742.13,358.98L776.19,331.73M742.13,386.23L776.19,358.98M742.13,413.48L776.19,386.23M742.13,440.74L776.19,413.48M742.13,467.99L776.19,440.74M742.13,495.24L776.19,467.99M742.13,522.49L776.19,495.24M742.13,549.75L776.19,522.49M742.13,577.00L776.19,549.75M776.19,86.45L810.25,59.20M776.19,113.71L810.25,86.45M776.19,140.96L810.25,113.71M776.19,168.21L810.25,140.96M776.19,195.46L810.25,168.21M776.19,222.72L810.25,195.46M776.19,249.97L810.25,222.72M776.19,277.22L810.25,249.97M776.19,304.47L810.25,277.22M776.19,331.73L810.25,304.47M776.19,358.98L810.25,331.73M776.19,386.23L810.25,358.98M776.19,413.48L810.25,386.23M776.19,440.74L810.25,413.48M776.19,467.99L810.25,440.74M776.19,495.24L810.25,467.99M776.19,522.49L810.25,495.24M776.19,549.75L810.25,522.49M776.19,577.00L810.25,549.75M299.34,59.20L333.40,86.45M571.83,86.45L605.89,113.71M299.34,140.96L333.40,168.21M469.64,113.71L503.71,140.96M197.16,140.96L231.22,168.21M367.46,113.71L401.52,140.96M299.34,113.71L333.40,140.96M265.28,59.20L299.34,86.45M265.28,140.96L299.34,168.21M333.40,59.20L367.46,86.45M435.58,113.71L469.64,140.96M469.64,86.45L503.71,113.71M163.10,86.45L197.16,113.71M537.77,86.45L571.83,113.71M231.22,86.45L265.28,113.71M605.89,86.45L639.95,113.71M401.52,59.20L435.58,86.45M333.40,113.71L367.46,140.96M197.16,86.45L231.22,113.71M163.10,140.96L197.16,168.21M503.71,86.45L537.77,113.71M231.22,59.20L265.28,86.45M605.89,59.20L639.95,86.45M231.22,140.96L265.28,168.21M401.52,113.71L435.58,140.96M367.46,59.20L401.52,86.45M469.64,59.20L503.71,86.45M486.67,59.20V86.45M469.64,72.83H503.71M469.64,72.83L486.67,59.20M486.67,86.45L503.71,72.83M486.67,59.20L503.71,72.83M469.64,72.83L486.67,86.45M197.16,113.71L231.22,140.96M214.19,113.71V140.96M197.16,127.33H231.22M197.16,127.33L214.19,113.71M214.19,140.96L231.22,127.33M214.19,113.71L231.22,127.33M197.16,127.33L214.19,140.96M401.52,86.45L435.58,113.71M418.55,86.45V113.71M401.52,100.08H435.58M401.52,100.08L418.55,86.45M418.55,113.71L435.58,100.08M418.55,86.45L435.58,100.08M401.52,100.08L418.55,113.71M435.58,86.45L469.64,113.71M452.61,86.45V113.71M435.58,100.08H469.64M435.58,100.08L452.61,86.45M452.61,113.71L469.64,100.08M452.61,86.45L469.64,100.08M435.58,100.08L452.61,113.71M265.28,86.45L299.34,113.71M282.31,86.45V113.71M265.28,100.08H299.34M265.28,100.08L282.31,86.45M282.31,113.71L299.34,100.08M282.31,86.45L299.34,100.08M265.28,100.08L282.31,113.71M367.46,86.45L401.52,113.71M384.49,86.45V113.71M367.46,100.08H401.52M367.46,100.08L384.49,86.45M384.49,113.71L401.52,100.08M384.49,86.45L401.52,100.08M367.46,100.08L384.49,113.71M537.77,59.20L571.83,86.45M554.80,59.20V86.45M537.77,72.83H571.83M537.77,72.83L554.80,59.20M554.80,86.45L571.83,72.83M554.80,59.20L571.83,72.83M537.77,72.83L554.80,86.45M571.83,59.20L605.89,86.45M588.86,59.20V86.45M571.83,72.83H605.89M571.83,72.83L588.86,59.20M588.86,86.45L605.89,72.83M588.86,59.20L605.89,72.83M571.83,72.83L588.86,86.45M333.40,86.45L367.46,113.71M350.43,86.45V113.71M333.40,100.08H367.46M333.40,100.08L350.43,86.45M350.43,113.71L367.46,100.08M350.43,86.45L367.46,100.08M333.40,100.08L350.43,113.71M435.58,59.20L469.64,86.45M452.61,59.20V86.45M435.58,72.83H469.64M435.58,72.83L452.61,59.20M452.61,86.45L469.64,72.83M452.61,59.20L469.64,72.83M435.58,72.83L452.61,86.45M163.10,113.71L197.16,140.96M180.13,113.71V140.96M163.10,127.33H197.16M163.10,127.33L180.13,113.71M180.13,140.96L197.16,127.33M180.13,113.71L197.16,127.33M163.10,127.33L180.13,140.96M503.71,59.20L537.77,86.45M520.74,59.20V86.45M503.71,72.83H537.77M503.71,72.83L520.74,59.20M520.74,86.45L537.77,72.83M520.74,59.20L537.77,72.83M503.71,72.83L520.74,86.45M231.22,113.71L265.28,140.96M248.25,113.71V140.96M231.22,127.33H265.28M231.22,127.33L248.25,113.71M248.25,140.96L265.28,127.33M248.25,113.71L265.28,127.33M231.22,127.33L248.25,140.96M265.28,113.71L299.34,140.96M282.31,113.71V140.96M265.28,127.33H299.34M265.28,127.33L282.31,113.71M282.31,140.96L299.34,127.33M282.31,113.71L299.34,127.33M265.28,127.33L282.31,140.96M299.34,86.45L333.40,113.71M316.37,86.45V113.71M299.34,100.08H333.40M299.34,100.08L316.37,86.45M316.37,113.71L333.40,100.08M316.37,86.45L333.40,100.08M299.34,100.08L316.37,113.71" fill="none" clip-path="url(#cpp)" stroke="#0000ff" stroke-opacity="0.08" stroke-width="1"/>
<path d="M558.95,444.90 L560.86,450.67 L566.94,450.70 L562.04,454.30 L563.89,460.10 L558.95,456.55 L554.01,460.10 L555.86,454.30 L550.96,450.70 L557.04,450.67Z" fill="#ff00ff"/>
<rect x="149.9" y="48.5" width="674.00" height="539.45" fill="none" stroke="#000" stroke-width="2.2"/>
<path d="M235.12,587.95L235.12,581.05 M235.12,48.50L235.12,55.40 M332.50,587.95L332.50,581.05 M332.50,48.50L332.50,55.40 M558.62,587.95L558.62,581.05 M558.62,48.50L558.62,55.40 M656.00,587.95L656.00,581.05 M656.00,48.50L656.00,55.40 M163.35,587.95L163.35,584.65 M163.35,48.50L163.35,51.80 M203.77,587.95L203.77,584.65 M203.77,48.50L203.77,51.80 M260.73,587.95L260.73,584.65 M260.73,48.50L260.73,51.80 M282.39,587.95L282.39,584.65 M282.39,48.50L282.39,51.80 M301.15,587.95L301.15,584.65 M301.15,48.50L301.15,51.80 M317.70,587.95L317.70,584.65 M317.70,48.50L317.70,51.80 M429.88,587.95L429.88,584.65 M429.88,48.50L429.88,51.80 M486.85,587.95L486.85,584.65 M486.85,48.50L486.85,51.80 M527.27,587.95L527.27,584.65 M527.27,48.50L527.27,51.80 M584.23,587.95L584.23,584.65 M584.23,48.50L584.23,51.80 M605.89,587.95L605.89,584.65 M605.89,48.50L605.89,51.80 M624.65,587.95L624.65,584.65 M624.65,48.50L624.65,51.80 M641.20,587.95L641.20,584.65 M641.20,48.50L641.20,51.80 M753.38,587.95L753.38,584.65 M753.38,48.50L753.38,51.80 M810.35,587.95L810.35,584.65 M810.35,48.50L810.35,51.80 M149.90,577.41L156.80,577.41 M823.90,577.41L817.00,577.41 M149.90,396.33L156.80,396.33 M823.90,396.33L817.00,396.33 M149.90,318.34L156.80,318.34 M823.90,318.34L817.00,318.34 M149.90,137.26L156.80,137.26 M823.90,137.26L817.00,137.26 M149.90,59.27L156.80,59.27 M823.90,59.27L817.00,59.27 M149.90,499.42L153.20,499.42 M823.90,499.42L820.60,499.42 M149.90,453.80L153.20,453.80 M823.90,453.80L820.60,453.80 M149.90,421.43L153.20,421.43 M823.90,421.43L820.60,421.43 M149.90,375.81L153.20,375.81 M823.90,375.81L820.60,375.81 M149.90,358.47L153.20,358.47 M823.90,358.47L820.60,358.47 M149.90,343.45L153.20,343.45 M823.90,343.45L820.60,343.45 M149.90,330.19L153.20,330.19 M823.90,330.19L820.60,330.19 M149.90,240.35L153.20,240.35 M823.90,240.35L820.60,240.35 M149.90,194.73L153.20,194.73 M823.90,194.73L820.60,194.73 M149.90,162.36L153.20,162.36 M823.90,162.36L820.60,162.36 M149.90,116.74L153.20,116.74 M823.90,116.74L820.60,116.74 M149.90,99.40L153.20,99.40 M823.90,99.40L820.60,99.40 M149.90,84.38L153.20,84.38 M823.90,84.38L820.60,84.38 M149.90,71.12L153.20,71.12 M823.90,71.12L820.60,71.12" stroke="#000" stroke-width="2" fill="none"/>
<text x="235.12" y="618.5" font-size="28.5" text-anchor="middle">0.5</text>
<text x="332.50" y="618.5" font-size="28.5" text-anchor="middle">1</text>
<text x="558.62" y="618.5" font-size="28.5" text-anchor="middle">5</text>
<text x="656.00" y="618.5" font-size="28.5" text-anchor="middle">10</text>
<text x="144.5" y="68.87" font-size="28.5" text-anchor="end">0.010</text>
<text x="144.5" y="146.86" font-size="28.5" text-anchor="end">0.005</text>
<text x="144.5" y="327.94" font-size="28.5" text-anchor="end">0.001</text>
<text x="44.2" y="405.53" font-size="28.5" letter-spacing="-0.6">5.</text>
<path d="M71.6,391.13L85.9,404.93M85.9,391.13L71.6,404.93" stroke="#000" stroke-width="1.45" fill="none"/>
<text x="92.4" y="405.53" font-size="28.5" letter-spacing="-0.4">10</text>
<path d="M122.6,389.83H132.4" stroke="#000" stroke-width="1.3" fill="none"/>
<text x="133.7" y="396.03" font-size="20">4</text>
<text x="44.6" y="586.61" font-size="28.5" letter-spacing="-0.6">1.</text>
<path d="M71.6,572.21L85.9,586.01M85.9,572.21L71.6,586.01" stroke="#000" stroke-width="1.45" fill="none"/>
<text x="92.4" y="586.61" font-size="28.5" letter-spacing="-0.4">10</text>
<path d="M122.6,570.91H132.4" stroke="#000" stroke-width="1.3" fill="none"/>
<text x="133.7" y="577.11" font-size="20">4</text>
<text x="428.5" y="658.3" font-size="28.5"><tspan font-style="italic">m</tspan><tspan font-size="20" font-style="italic" dy="6" dx="1.3">ξ</tspan><tspan dy="-6" dx="1.2"> [MeV]</tspan></text>
<g transform="translate(26.3,334.4) rotate(-90)"><text font-size="28.5" font-style="italic" transform="scale(1.09,0.97)">α</text><text font-size="20" font-style="italic" transform="translate(18.8,4.1) scale(1.3,0.86)">χ</text></g>
<text x="190.3" y="31.2" font-size="35" font-style="italic" textLength="25.9" lengthAdjust="spacingAndGlyphs">m</text>
<text font-size="25.1" font-style="italic" transform="translate(217.3,36.2) scale(1.3,0.86)">χ</text>
<text x="233.0" y="31.2" font-size="35" letter-spacing="0.17">=5 GeV,</text>
<text x="362.6" y="31.2" font-size="35" font-style="italic">v</text>
<text x="379.5" y="38.2" font-size="25">rel</text>
<text x="406.4" y="31.2" font-size="35" letter-spacing="-0.3">=4000</text>
<text x="505.3" y="31.2" font-size="35">km/s</text>
<text x="582.8" y="31.2" font-size="35" letter-spacing="-0.26">[Cluster scale]</text>
<g transform="translate(434.3,194.4) rotate(-11.1)"><text x="-0.6" y="0" font-size="25.5" letter-spacing="0.7">0.1</text><text x="41.70" y="0" font-size="25.5" letter-spacing="0.5">cm</text><text x="73.50" y="-11.3" font-size="17.5">2</text><line x1="86.20" y1="6.2" x2="95.00" y2="-19.6" stroke="#000" stroke-width="1.25"/><text x="96.90" y="0" font-size="25.5">g</text></g>
<g transform="translate(429.1,315.7) rotate(-11.1)"><text x="-0.6" y="0" font-size="25.5" letter-spacing="0.7">0.01</text><text x="52.60" y="0" font-size="25.5" letter-spacing="0.5">cm</text><text x="84.40" y="-11.3" font-size="17.5">2</text><line x1="97.10" y1="6.2" x2="105.90" y2="-19.6" stroke="#000" stroke-width="1.25"/><text x="107.80" y="0" font-size="25.5">g</text></g>
<g transform="translate(422.8,456.0) rotate(-11.1)"><text x="-0.6" y="0" font-size="25.5" letter-spacing="0.7">0.001</text><text x="65.30" y="0" font-size="25.5" letter-spacing="0.5">cm</text><text x="97.10" y="-11.3" font-size="17.5">2</text><line x1="109.80" y1="6.2" x2="118.60" y2="-19.6" stroke="#000" stroke-width="1.25"/><text x="120.50" y="0" font-size="25.5">g</text></g>
</svg>
</body></html>
